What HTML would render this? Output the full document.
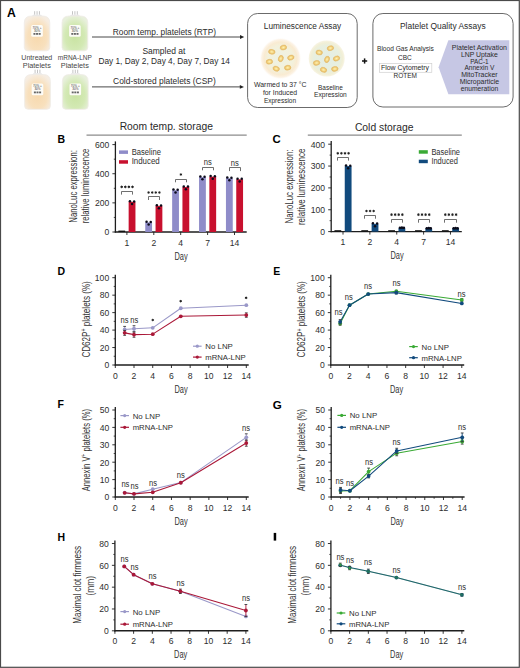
<!DOCTYPE html>
<html><head><meta charset="utf-8"><style>
html,body{margin:0;padding:0;background:#fff;overflow:hidden;width:520px;height:668px;}
svg{display:block;}
text{font-family:"Liberation Sans", sans-serif;}
</style></head><body>
<svg width="520" height="668" viewBox="0 0 520 668" font-family='"Liberation Sans", sans-serif' fill="#2b2b2b">
<defs>
<radialGradient id="gPeach" cx="50%" cy="60%" r="62%">
<stop offset="0" stop-color="#f7d9ae"/><stop offset="0.6" stop-color="#f8e0bd"/><stop offset="1" stop-color="#f6ede2"/></radialGradient>
<radialGradient id="gGreen" cx="50%" cy="60%" r="62%">
<stop offset="0" stop-color="#c9e3a2"/><stop offset="0.6" stop-color="#d3e9b4"/><stop offset="1" stop-color="#e8f0dc"/></radialGradient>
<radialGradient id="gGlow" cx="50%" cy="50%" r="50%">
<stop offset="0" stop-color="#eef2e4"/><stop offset="0.6" stop-color="#f3f1dc"/><stop offset="0.78" stop-color="#f9ebd2"/><stop offset="0.9" stop-color="#fcf3e6"/><stop offset="1" stop-color="#ffffff" stop-opacity="0"/></radialGradient>
<radialGradient id="gBase" cx="50%" cy="50%" r="50%">
<stop offset="0" stop-color="#e4eee6"/><stop offset="0.72" stop-color="#e8efdf"/><stop offset="0.88" stop-color="#f1efd6"/><stop offset="1" stop-color="#f8f4e4"/></radialGradient>
<radialGradient id="gPlt" cx="50%" cy="50%" r="50%">
<stop offset="0" stop-color="#fcefb8"/><stop offset="0.45" stop-color="#f7dc8a"/><stop offset="1" stop-color="#e2b35c"/></radialGradient>
</defs>
<rect x="0" y="0" width="520" height="668" fill="#fff"/>
<text x="7.00" y="17.00" font-size="12.2" font-weight="bold" fill="#000" >A</text>
<line x1="34.65" y1="11.20" x2="34.65" y2="14.80" stroke="#bdbdbd" stroke-width="0.9"/>
<line x1="37.05" y1="11.20" x2="37.05" y2="14.80" stroke="#bdbdbd" stroke-width="0.9"/>
<line x1="39.45" y1="11.20" x2="39.45" y2="14.80" stroke="#bdbdbd" stroke-width="0.9"/>
<path d="M33.05 14.80 h8 l1.5 2 h-11 z" fill="#e6e6e6"/>
<path d="M24.30 23.00 Q24.30 16.00 31.30 16.00 L42.80 16.00 Q49.80 16.00 49.80 23.00 L49.80 47.30 Q49.80 50.80 46.30 50.80 L27.80 50.80 Q24.30 50.80 24.30 47.30 Z" fill="url(#gPeach)" stroke="#efebe6" stroke-width="0.8"/>
<rect x="31.25" y="25.00" width="11.6" height="11.8" rx="1.5" fill="#fdfcf7"/>
<text x="37.05" y="28.70" font-size="3.1" text-anchor="middle" fill="#333" >70% +</text>
<text x="37.05" y="31.80" font-size="3.1" text-anchor="middle" fill="#333" >30%</text>
<rect x="33.45" y="33.00" width="2.00" height="1.80" fill="#666" />
<rect x="36.05" y="33.00" width="2.00" height="1.80" fill="#666" />
<rect x="38.65" y="33.00" width="2.00" height="1.80" fill="#666" />
<line x1="72.50" y1="11.20" x2="72.50" y2="14.80" stroke="#bdbdbd" stroke-width="0.9"/>
<line x1="74.90" y1="11.20" x2="74.90" y2="14.80" stroke="#bdbdbd" stroke-width="0.9"/>
<line x1="77.30" y1="11.20" x2="77.30" y2="14.80" stroke="#bdbdbd" stroke-width="0.9"/>
<path d="M70.90 14.80 h8 l1.5 2 h-11 z" fill="#e6e6e6"/>
<path d="M62.00 23.00 Q62.00 16.00 69.00 16.00 L80.80 16.00 Q87.80 16.00 87.80 23.00 L87.80 47.30 Q87.80 50.80 84.30 50.80 L65.50 50.80 Q62.00 50.80 62.00 47.30 Z" fill="url(#gGreen)" stroke="#efebe6" stroke-width="0.8"/>
<rect x="69.10" y="25.00" width="11.6" height="11.8" rx="1.5" fill="#fdfcf7"/>
<text x="74.90" y="28.70" font-size="3.1" text-anchor="middle" fill="#333" >70% +</text>
<text x="74.90" y="31.80" font-size="3.1" text-anchor="middle" fill="#333" >30%</text>
<rect x="71.30" y="33.00" width="2.00" height="1.80" fill="#666" />
<rect x="73.90" y="33.00" width="2.00" height="1.80" fill="#666" />
<rect x="76.50" y="33.00" width="2.00" height="1.80" fill="#666" />
<line x1="35.10" y1="69.70" x2="35.10" y2="73.30" stroke="#bdbdbd" stroke-width="0.9"/>
<line x1="37.50" y1="69.70" x2="37.50" y2="73.30" stroke="#bdbdbd" stroke-width="0.9"/>
<line x1="39.90" y1="69.70" x2="39.90" y2="73.30" stroke="#bdbdbd" stroke-width="0.9"/>
<path d="M33.50 73.30 h8 l1.5 2 h-11 z" fill="#e6e6e6"/>
<path d="M24.60 81.50 Q24.60 74.50 31.60 74.50 L43.40 74.50 Q50.40 74.50 50.40 81.50 L50.40 105.80 Q50.40 109.30 46.90 109.30 L28.10 109.30 Q24.60 109.30 24.60 105.80 Z" fill="url(#gPeach)" stroke="#efebe6" stroke-width="0.8"/>
<rect x="31.70" y="83.50" width="11.6" height="11.8" rx="1.5" fill="#fdfcf7"/>
<text x="37.50" y="87.20" font-size="3.1" text-anchor="middle" fill="#333" >70% +</text>
<text x="37.50" y="90.30" font-size="3.1" text-anchor="middle" fill="#333" >30%</text>
<rect x="33.90" y="91.50" width="2.00" height="1.80" fill="#666" />
<rect x="36.50" y="91.50" width="2.00" height="1.80" fill="#666" />
<rect x="39.10" y="91.50" width="2.00" height="1.80" fill="#666" />
<line x1="72.90" y1="69.70" x2="72.90" y2="73.30" stroke="#bdbdbd" stroke-width="0.9"/>
<line x1="75.30" y1="69.70" x2="75.30" y2="73.30" stroke="#bdbdbd" stroke-width="0.9"/>
<line x1="77.70" y1="69.70" x2="77.70" y2="73.30" stroke="#bdbdbd" stroke-width="0.9"/>
<path d="M71.30 73.30 h8 l1.5 2 h-11 z" fill="#e6e6e6"/>
<path d="M62.40 81.50 Q62.40 74.50 69.40 74.50 L81.20 74.50 Q88.20 74.50 88.20 81.50 L88.20 105.80 Q88.20 109.30 84.70 109.30 L65.90 109.30 Q62.40 109.30 62.40 105.80 Z" fill="url(#gGreen)" stroke="#efebe6" stroke-width="0.8"/>
<rect x="69.50" y="83.50" width="11.6" height="11.8" rx="1.5" fill="#fdfcf7"/>
<text x="75.30" y="87.20" font-size="3.1" text-anchor="middle" fill="#333" >70% +</text>
<text x="75.30" y="90.30" font-size="3.1" text-anchor="middle" fill="#333" >30%</text>
<rect x="71.70" y="91.50" width="2.00" height="1.80" fill="#666" />
<rect x="74.30" y="91.50" width="2.00" height="1.80" fill="#666" />
<rect x="76.90" y="91.50" width="2.00" height="1.80" fill="#666" />
<text x="36.80" y="59.60" font-size="7.3" text-anchor="middle" fill="#464646" textLength="31.00" lengthAdjust="spacingAndGlyphs" >Untreated</text>
<text x="36.80" y="67.70" font-size="7.3" text-anchor="middle" fill="#464646" textLength="28.00" lengthAdjust="spacingAndGlyphs" >Platelets</text>
<text x="74.80" y="59.60" font-size="7.3" text-anchor="middle" fill="#464646" textLength="34.00" lengthAdjust="spacingAndGlyphs" >mRNA-LNP</text>
<text x="74.80" y="67.70" font-size="7.3" text-anchor="middle" fill="#464646" textLength="28.00" lengthAdjust="spacingAndGlyphs" >Platelets</text>
<line x1="92.00" y1="37.00" x2="241.20" y2="37.00" stroke="#333" stroke-width="0.9"/>
<path d="M244.20 37.00 L240.00 35.10 L240.00 38.90 Z" fill="#222"/>
<line x1="92.00" y1="86.90" x2="241.00" y2="86.90" stroke="#333" stroke-width="0.9"/>
<path d="M244.00 86.90 L239.80 85.00 L239.80 88.80 Z" fill="#222"/>
<text x="164.40" y="35.00" font-size="8.3" text-anchor="middle" textLength="103.20" lengthAdjust="spacingAndGlyphs" >Room temp. platelets (RTP)</text>
<text x="163.90" y="54.00" font-size="8.3" text-anchor="middle" textLength="43.00" lengthAdjust="spacingAndGlyphs" >Sampled at</text>
<text x="164.20" y="63.50" font-size="8.3" text-anchor="middle" textLength="131.50" lengthAdjust="spacingAndGlyphs" >Day 1, Day 2, Day 4, Day 7, Day 14</text>
<text x="164.40" y="84.30" font-size="8.3" text-anchor="middle" textLength="102.70" lengthAdjust="spacingAndGlyphs" >Cold-stored platelets (CSP)</text>
<rect x="247.6" y="13.5" width="109.6" height="94" rx="10" fill="none" stroke="#5a5a5a" stroke-width="0.9"/>
<text x="302.50" y="28.90" font-size="8.3" text-anchor="middle" textLength="77.40" lengthAdjust="spacingAndGlyphs" >Luminescence Assay</text>
<circle cx="280.50" cy="58.50" r="21.00" fill="url(#gGlow)" />
<circle cx="326.70" cy="58.50" r="18.00" fill="url(#gBase)" />
<ellipse cx="271.80" cy="51.80" rx="3.3" ry="2.4" fill="url(#gPlt)" stroke="#e6bd6e" stroke-width="0.6" transform="rotate(10 271.80 51.80)"/>
<ellipse cx="283.40" cy="47.50" rx="3.3" ry="2.4" fill="url(#gPlt)" stroke="#e6bd6e" stroke-width="0.6" transform="rotate(-15 283.40 47.50)"/>
<ellipse cx="280.80" cy="58.60" rx="3.3" ry="2.4" fill="url(#gPlt)" stroke="#e6bd6e" stroke-width="0.6" transform="rotate(-70 280.80 58.60)"/>
<ellipse cx="290.80" cy="57.60" rx="3.3" ry="2.4" fill="url(#gPlt)" stroke="#e6bd6e" stroke-width="0.6" transform="rotate(-20 290.80 57.60)"/>
<ellipse cx="269.40" cy="61.70" rx="3.3" ry="2.4" fill="url(#gPlt)" stroke="#e6bd6e" stroke-width="0.6" transform="rotate(-10 269.40 61.70)"/>
<ellipse cx="276.20" cy="68.70" rx="3.3" ry="2.4" fill="url(#gPlt)" stroke="#e6bd6e" stroke-width="0.6" transform="rotate(20 276.20 68.70)"/>
<ellipse cx="287.70" cy="67.70" rx="3.3" ry="2.4" fill="url(#gPlt)" stroke="#e6bd6e" stroke-width="0.6" transform="rotate(-10 287.70 67.70)"/>
<ellipse cx="319.20" cy="52.50" rx="3.3" ry="2.4" fill="url(#gPlt)" stroke="#e6bd6e" stroke-width="0.6" transform="rotate(10 319.20 52.50)"/>
<ellipse cx="330.40" cy="48.20" rx="3.3" ry="2.4" fill="url(#gPlt)" stroke="#e6bd6e" stroke-width="0.6" transform="rotate(-15 330.40 48.20)"/>
<ellipse cx="327.00" cy="59.40" rx="3.3" ry="2.4" fill="url(#gPlt)" stroke="#e6bd6e" stroke-width="0.6" transform="rotate(-70 327.00 59.40)"/>
<ellipse cx="336.50" cy="58.50" rx="3.3" ry="2.4" fill="url(#gPlt)" stroke="#e6bd6e" stroke-width="0.6" transform="rotate(-20 336.50 58.50)"/>
<ellipse cx="316.60" cy="62.90" rx="3.3" ry="2.4" fill="url(#gPlt)" stroke="#e6bd6e" stroke-width="0.6" transform="rotate(-10 316.60 62.90)"/>
<ellipse cx="323.50" cy="69.80" rx="3.3" ry="2.4" fill="url(#gPlt)" stroke="#e6bd6e" stroke-width="0.6" transform="rotate(20 323.50 69.80)"/>
<ellipse cx="334.80" cy="68.90" rx="3.3" ry="2.4" fill="url(#gPlt)" stroke="#e6bd6e" stroke-width="0.6" transform="rotate(-10 334.80 68.90)"/>
<text x="280.30" y="87.00" font-size="7.0" text-anchor="middle" textLength="52.50" lengthAdjust="spacingAndGlyphs" >Warmed to 37 °C</text>
<text x="280.00" y="95.00" font-size="7.0" text-anchor="middle" textLength="34.20" lengthAdjust="spacingAndGlyphs" >for Induced</text>
<text x="280.00" y="103.00" font-size="7.0" text-anchor="middle" textLength="32.20" lengthAdjust="spacingAndGlyphs" >Expression</text>
<text x="330.40" y="89.50" font-size="7.0" text-anchor="middle" textLength="24.80" lengthAdjust="spacingAndGlyphs" >Baseline</text>
<text x="330.40" y="97.30" font-size="7.0" text-anchor="middle" textLength="32.80" lengthAdjust="spacingAndGlyphs" >Expression</text>
<line x1="362.00" y1="61.00" x2="367.20" y2="61.00" stroke="#111" stroke-width="1.5"/>
<line x1="364.60" y1="58.40" x2="364.60" y2="63.60" stroke="#111" stroke-width="1.5"/>
<rect x="372.9" y="13.5" width="140.2" height="93.5" rx="10" fill="none" stroke="#5a5a5a" stroke-width="0.9"/>
<text x="442.80" y="28.80" font-size="8.3" text-anchor="middle" textLength="85.60" lengthAdjust="spacingAndGlyphs" >Platelet Quality Assays</text>
<text x="405.40" y="51.20" font-size="7.5" text-anchor="middle" textLength="56.80" lengthAdjust="spacingAndGlyphs" >Blood Gas Analysis</text>
<text x="404.90" y="60.30" font-size="7.5" text-anchor="middle" textLength="13.80" lengthAdjust="spacingAndGlyphs" >CBC</text>
<rect x="379.6" y="63.4" width="52.2" height="8.9" fill="none" stroke="#cfcfcf" stroke-width="0.7"/>
<text x="405.00" y="69.50" font-size="7.5" text-anchor="middle" textLength="48.00" lengthAdjust="spacingAndGlyphs" >Flow Cytometry</text>
<text x="405.20" y="78.20" font-size="7.5" text-anchor="middle" textLength="23.50" lengthAdjust="spacingAndGlyphs" >ROTEM</text>
<path d="M448.4 40.2 L509.3 40.2 L509.3 94.2 L448.4 94.2 L438.6 67.2 Z" fill="#c6c7e4"/>
<text x="479.40" y="50.20" font-size="7.1" text-anchor="middle" textLength="55.10" lengthAdjust="spacingAndGlyphs" >Platelet Activation</text>
<text x="479.40" y="56.95" font-size="7.1" text-anchor="middle" textLength="37.00" lengthAdjust="spacingAndGlyphs" >LNP Uptake</text>
<text x="479.40" y="63.70" font-size="7.1" text-anchor="middle" textLength="18.50" lengthAdjust="spacingAndGlyphs" >PAC-1</text>
<text x="479.40" y="70.45" font-size="7.1" text-anchor="middle" textLength="30.00" lengthAdjust="spacingAndGlyphs" >Annexin V</text>
<text x="479.40" y="77.20" font-size="7.1" text-anchor="middle" textLength="36.50" lengthAdjust="spacingAndGlyphs" >MitoTracker</text>
<text x="479.40" y="83.95" font-size="7.1" text-anchor="middle" textLength="39.50" lengthAdjust="spacingAndGlyphs" >Microparticle</text>
<text x="479.40" y="90.70" font-size="7.1" text-anchor="middle" textLength="37.50" lengthAdjust="spacingAndGlyphs" >enumeration</text>
<text x="57.50" y="142.70" font-size="10.5" font-weight="bold" fill="#000" >B</text>
<text x="166.30" y="129.80" font-size="10.0" text-anchor="middle" fill="#2a2a2a" textLength="93.30" lengthAdjust="spacingAndGlyphs" >Room temp. storage</text>
<line x1="86.50" y1="135.10" x2="246.70" y2="135.10" stroke="#8c8c8c" stroke-width="1.4"/>
<line x1="115.40" y1="141.40" x2="115.40" y2="232.60" stroke="#1e1e1e" stroke-width="1.3"/>
<line x1="112.40" y1="232.00" x2="115.40" y2="232.00" stroke="#1e1e1e" stroke-width="0.9"/>
<text x="109.30" y="235.30" font-size="8.6" text-anchor="end" fill="#2e2e2e" >0</text>
<line x1="112.40" y1="202.87" x2="115.40" y2="202.87" stroke="#1e1e1e" stroke-width="0.9"/>
<text x="109.30" y="206.17" font-size="8.6" text-anchor="end" fill="#2e2e2e" >200</text>
<line x1="112.40" y1="173.73" x2="115.40" y2="173.73" stroke="#1e1e1e" stroke-width="0.9"/>
<text x="109.30" y="177.03" font-size="8.6" text-anchor="end" fill="#2e2e2e" >400</text>
<line x1="112.40" y1="144.60" x2="115.40" y2="144.60" stroke="#1e1e1e" stroke-width="0.9"/>
<text x="109.30" y="147.90" font-size="8.6" text-anchor="end" fill="#2e2e2e" >600</text>
<line x1="113.80" y1="217.43" x2="115.40" y2="217.43" stroke="#1e1e1e" stroke-width="0.8"/>
<line x1="113.80" y1="188.30" x2="115.40" y2="188.30" stroke="#1e1e1e" stroke-width="0.8"/>
<line x1="113.80" y1="159.17" x2="115.40" y2="159.17" stroke="#1e1e1e" stroke-width="0.8"/>
<line x1="114.80" y1="232.00" x2="246.70" y2="232.00" stroke="#1e1e1e" stroke-width="1.4"/>
<line x1="126.90" y1="232.00" x2="126.90" y2="235.00" stroke="#1e1e1e" stroke-width="0.9"/>
<text x="126.90" y="245.50" font-size="8.6" text-anchor="middle" fill="#2e2e2e" >1</text>
<line x1="153.80" y1="232.00" x2="153.80" y2="235.00" stroke="#1e1e1e" stroke-width="0.9"/>
<text x="153.80" y="245.50" font-size="8.6" text-anchor="middle" fill="#2e2e2e" >2</text>
<line x1="180.70" y1="232.00" x2="180.70" y2="235.00" stroke="#1e1e1e" stroke-width="0.9"/>
<text x="180.70" y="245.50" font-size="8.6" text-anchor="middle" fill="#2e2e2e" >4</text>
<line x1="207.60" y1="232.00" x2="207.60" y2="235.00" stroke="#1e1e1e" stroke-width="0.9"/>
<text x="207.60" y="245.50" font-size="8.6" text-anchor="middle" fill="#2e2e2e" >7</text>
<line x1="234.50" y1="232.00" x2="234.50" y2="235.00" stroke="#1e1e1e" stroke-width="0.9"/>
<text x="234.50" y="245.50" font-size="8.6" text-anchor="middle" fill="#2e2e2e" >14</text>
<text x="181.00" y="259.50" font-size="10.3" text-anchor="middle" fill="#333" textLength="13.20" lengthAdjust="spacingAndGlyphs" >Day</text>
<text x="77.30" y="186.40" font-size="10.2" text-anchor="middle" fill="#333" textLength="72.50" lengthAdjust="spacingAndGlyphs" transform="rotate(-90 77.30 186.40)" >NanoLuc expression:</text>
<text x="89.30" y="186.00" font-size="10.2" text-anchor="middle" fill="#333" textLength="74.70" lengthAdjust="spacingAndGlyphs" transform="rotate(-90 89.30 186.00)" >relative luminescence</text>
<rect x="119.00" y="150.40" width="9.00" height="3.50" fill="#8f8cc9" />
<text x="131.70" y="154.60" font-size="8.3" fill="#2e2e2e" textLength="29.20" lengthAdjust="spacingAndGlyphs" >Baseline</text>
<rect x="119.00" y="160.20" width="9.00" height="3.50" fill="#c8102e" />
<text x="131.70" y="164.30" font-size="8.3" fill="#2e2e2e" textLength="28.00" lengthAdjust="spacingAndGlyphs" >Induced</text>
<rect x="118.35" y="230.60" width="6.80" height="1.40" fill="#111" />
<rect x="128.65" y="201.85" width="6.80" height="30.15" fill="#c8102e" />
<circle cx="129.95" cy="201.25" r="1.25" fill="#0b0b1a" />
<circle cx="134.15" cy="201.45" r="1.25" fill="#0b0b1a" />
<circle cx="132.05" cy="204.05" r="1.25" fill="#0b0b1a" />
<rect x="145.25" y="222.39" width="6.80" height="9.61" fill="#8f8cc9" />
<circle cx="146.55" cy="221.79" r="1.25" fill="#0b0b1a" />
<circle cx="150.75" cy="221.99" r="1.25" fill="#0b0b1a" />
<circle cx="148.65" cy="224.59" r="1.25" fill="#0b0b1a" />
<rect x="155.55" y="205.93" width="6.80" height="26.07" fill="#c8102e" />
<circle cx="156.85" cy="205.33" r="1.25" fill="#0b0b1a" />
<circle cx="161.05" cy="205.53" r="1.25" fill="#0b0b1a" />
<circle cx="158.95" cy="208.13" r="1.25" fill="#0b0b1a" />
<rect x="172.15" y="190.19" width="6.80" height="41.81" fill="#8f8cc9" />
<circle cx="173.45" cy="189.59" r="1.25" fill="#0b0b1a" />
<circle cx="177.65" cy="189.79" r="1.25" fill="#0b0b1a" />
<circle cx="175.55" cy="192.39" r="1.25" fill="#0b0b1a" />
<rect x="182.45" y="186.99" width="6.80" height="45.01" fill="#c8102e" />
<circle cx="183.75" cy="186.39" r="1.25" fill="#0b0b1a" />
<circle cx="187.95" cy="186.59" r="1.25" fill="#0b0b1a" />
<circle cx="185.85" cy="189.19" r="1.25" fill="#0b0b1a" />
<rect x="199.05" y="177.08" width="6.80" height="54.92" fill="#8f8cc9" />
<circle cx="200.35" cy="176.48" r="1.25" fill="#0b0b1a" />
<circle cx="204.55" cy="176.68" r="1.25" fill="#0b0b1a" />
<circle cx="202.45" cy="179.28" r="1.25" fill="#0b0b1a" />
<rect x="209.35" y="176.65" width="6.80" height="55.35" fill="#c8102e" />
<circle cx="210.65" cy="176.05" r="1.25" fill="#0b0b1a" />
<circle cx="214.85" cy="176.25" r="1.25" fill="#0b0b1a" />
<circle cx="212.75" cy="178.85" r="1.25" fill="#0b0b1a" />
<rect x="225.95" y="178.10" width="6.80" height="53.90" fill="#8f8cc9" />
<circle cx="227.25" cy="177.50" r="1.25" fill="#0b0b1a" />
<circle cx="231.45" cy="177.70" r="1.25" fill="#0b0b1a" />
<circle cx="229.35" cy="180.30" r="1.25" fill="#0b0b1a" />
<rect x="236.25" y="179.27" width="6.80" height="52.73" fill="#c8102e" />
<circle cx="237.55" cy="178.67" r="1.25" fill="#0b0b1a" />
<circle cx="241.75" cy="178.87" r="1.25" fill="#0b0b1a" />
<circle cx="239.65" cy="181.47" r="1.25" fill="#0b0b1a" />
<polygon points="121.70,185.35 122.20,186.03 123.04,186.12 122.70,186.90 123.04,187.68 122.20,187.77 121.70,188.45 121.20,187.77 120.36,187.68 120.70,186.90 120.36,186.12 121.20,186.03" fill="#222"/>
<polygon points="125.30,185.35 125.80,186.03 126.64,186.12 126.30,186.90 126.64,187.68 125.80,187.77 125.30,188.45 124.80,187.77 123.96,187.68 124.30,186.90 123.96,186.12 124.80,186.03" fill="#222"/>
<polygon points="128.90,185.35 129.40,186.03 130.24,186.12 129.90,186.90 130.24,187.68 129.40,187.77 128.90,188.45 128.40,187.77 127.56,187.68 127.90,186.90 127.56,186.12 128.40,186.03" fill="#222"/>
<polygon points="132.50,185.35 133.00,186.03 133.84,186.12 133.50,186.90 133.84,187.68 133.00,187.77 132.50,188.45 132.00,187.77 131.16,187.68 131.50,186.90 131.16,186.12 132.00,186.03" fill="#222"/>
<path d="M121.50 194.60 V191.50 H132.50 V194.60" fill="none" stroke="#555" stroke-width="0.85"/>
<polygon points="148.60,190.95 149.10,191.63 149.94,191.72 149.60,192.50 149.94,193.28 149.10,193.37 148.60,194.05 148.10,193.37 147.26,193.28 147.60,192.50 147.26,191.72 148.10,191.63" fill="#222"/>
<polygon points="152.20,190.95 152.70,191.63 153.54,191.72 153.20,192.50 153.54,193.28 152.70,193.37 152.20,194.05 151.70,193.37 150.86,193.28 151.20,192.50 150.86,191.72 151.70,191.63" fill="#222"/>
<polygon points="155.80,190.95 156.30,191.63 157.14,191.72 156.80,192.50 157.14,193.28 156.30,193.37 155.80,194.05 155.30,193.37 154.46,193.28 154.80,192.50 154.46,191.72 155.30,191.63" fill="#222"/>
<polygon points="159.40,190.95 159.90,191.63 160.74,191.72 160.40,192.50 160.74,193.28 159.90,193.37 159.40,194.05 158.90,193.37 158.06,193.28 158.40,192.50 158.06,191.72 158.90,191.63" fill="#222"/>
<path d="M148.50 200.00 V196.50 H159.50 V200.00" fill="none" stroke="#555" stroke-width="0.85"/>
<polygon points="180.90,172.95 181.40,173.63 182.24,173.72 181.90,174.50 182.24,175.28 181.40,175.37 180.90,176.05 180.40,175.37 179.56,175.28 179.90,174.50 179.56,173.72 180.40,173.63" fill="#222"/>
<path d="M175.50 182.30 V179.50 H186.50 V182.30" fill="none" stroke="#555" stroke-width="0.85"/>
<text x="207.80" y="165.30" font-size="8.7" text-anchor="middle" fill="#2a2a2a" textLength="8.00" lengthAdjust="spacingAndGlyphs" >ns</text>
<path d="M202.50 170.30 V167.50 H213.50 V170.30" fill="none" stroke="#555" stroke-width="0.85"/>
<text x="234.70" y="166.10" font-size="8.7" text-anchor="middle" fill="#2a2a2a" textLength="8.00" lengthAdjust="spacingAndGlyphs" >ns</text>
<path d="M229.50 171.10 V167.50 H240.50 V171.10" fill="none" stroke="#555" stroke-width="0.85"/>
<text x="272.60" y="143.20" font-size="10.8" font-weight="bold" fill="#000" textLength="8.20" lengthAdjust="spacingAndGlyphs" >C</text>
<text x="384.20" y="130.60" font-size="10.0" text-anchor="middle" fill="#2a2a2a" textLength="58.60" lengthAdjust="spacingAndGlyphs" >Cold storage</text>
<line x1="307.80" y1="135.10" x2="461.80" y2="135.10" stroke="#8c8c8c" stroke-width="1.4"/>
<line x1="331.20" y1="141.00" x2="331.20" y2="232.20" stroke="#1e1e1e" stroke-width="1.3"/>
<line x1="328.20" y1="231.60" x2="331.20" y2="231.60" stroke="#1e1e1e" stroke-width="0.9"/>
<text x="325.10" y="234.90" font-size="8.6" text-anchor="end" fill="#2e2e2e" >0</text>
<line x1="328.20" y1="209.75" x2="331.20" y2="209.75" stroke="#1e1e1e" stroke-width="0.9"/>
<text x="325.10" y="213.05" font-size="8.6" text-anchor="end" fill="#2e2e2e" >100</text>
<line x1="328.20" y1="187.90" x2="331.20" y2="187.90" stroke="#1e1e1e" stroke-width="0.9"/>
<text x="325.10" y="191.20" font-size="8.6" text-anchor="end" fill="#2e2e2e" >200</text>
<line x1="328.20" y1="166.05" x2="331.20" y2="166.05" stroke="#1e1e1e" stroke-width="0.9"/>
<text x="325.10" y="169.35" font-size="8.6" text-anchor="end" fill="#2e2e2e" >300</text>
<line x1="328.20" y1="144.20" x2="331.20" y2="144.20" stroke="#1e1e1e" stroke-width="0.9"/>
<text x="325.10" y="147.50" font-size="8.6" text-anchor="end" fill="#2e2e2e" >400</text>
<line x1="329.60" y1="220.67" x2="331.20" y2="220.67" stroke="#1e1e1e" stroke-width="0.8"/>
<line x1="329.60" y1="198.82" x2="331.20" y2="198.82" stroke="#1e1e1e" stroke-width="0.8"/>
<line x1="329.60" y1="176.97" x2="331.20" y2="176.97" stroke="#1e1e1e" stroke-width="0.8"/>
<line x1="329.60" y1="155.12" x2="331.20" y2="155.12" stroke="#1e1e1e" stroke-width="0.8"/>
<line x1="330.60" y1="231.60" x2="461.80" y2="231.60" stroke="#1e1e1e" stroke-width="1.4"/>
<line x1="343.00" y1="231.60" x2="343.00" y2="234.60" stroke="#1e1e1e" stroke-width="0.9"/>
<text x="343.00" y="245.10" font-size="8.6" text-anchor="middle" fill="#2e2e2e" >1</text>
<line x1="369.87" y1="231.60" x2="369.87" y2="234.60" stroke="#1e1e1e" stroke-width="0.9"/>
<text x="369.87" y="245.10" font-size="8.6" text-anchor="middle" fill="#2e2e2e" >2</text>
<line x1="396.74" y1="231.60" x2="396.74" y2="234.60" stroke="#1e1e1e" stroke-width="0.9"/>
<text x="396.74" y="245.10" font-size="8.6" text-anchor="middle" fill="#2e2e2e" >4</text>
<line x1="423.61" y1="231.60" x2="423.61" y2="234.60" stroke="#1e1e1e" stroke-width="0.9"/>
<text x="423.61" y="245.10" font-size="8.6" text-anchor="middle" fill="#2e2e2e" >7</text>
<line x1="450.48" y1="231.60" x2="450.48" y2="234.60" stroke="#1e1e1e" stroke-width="0.9"/>
<text x="450.48" y="245.10" font-size="8.6" text-anchor="middle" fill="#2e2e2e" >14</text>
<text x="397.00" y="259.10" font-size="10.3" text-anchor="middle" fill="#333" textLength="13.20" lengthAdjust="spacingAndGlyphs" >Day</text>
<text x="292.60" y="186.50" font-size="10.2" text-anchor="middle" fill="#333" textLength="74.00" lengthAdjust="spacingAndGlyphs" transform="rotate(-90 292.60 186.50)" >NanoLuc expression:</text>
<text x="304.70" y="186.80" font-size="10.2" text-anchor="middle" fill="#333" textLength="76.50" lengthAdjust="spacingAndGlyphs" transform="rotate(-90 304.70 186.80)" >relative luminescence</text>
<rect x="418.80" y="150.20" width="9.00" height="3.50" fill="#3aaa35" />
<text x="431.40" y="154.80" font-size="8.3" fill="#2e2e2e" textLength="28.60" lengthAdjust="spacingAndGlyphs" >Baseline</text>
<rect x="418.80" y="159.70" width="9.00" height="3.50" fill="#114a7d" />
<text x="431.40" y="164.30" font-size="8.3" fill="#2e2e2e" textLength="26.50" lengthAdjust="spacingAndGlyphs" >Induced</text>
<rect x="334.45" y="230.20" width="6.80" height="1.40" fill="#111" />
<rect x="344.75" y="166.05" width="6.80" height="65.55" fill="#114a7d" />
<circle cx="346.05" cy="165.45" r="1.25" fill="#0b0b1a" />
<circle cx="350.25" cy="165.65" r="1.25" fill="#0b0b1a" />
<circle cx="348.15" cy="168.25" r="1.25" fill="#0b0b1a" />
<rect x="361.32" y="230.20" width="6.80" height="1.40" fill="#111" />
<rect x="371.62" y="223.95" width="6.80" height="7.65" fill="#114a7d" />
<circle cx="372.92" cy="223.35" r="1.25" fill="#0b0b1a" />
<circle cx="377.12" cy="223.55" r="1.25" fill="#0b0b1a" />
<circle cx="375.02" cy="226.15" r="1.25" fill="#0b0b1a" />
<rect x="388.19" y="230.20" width="6.80" height="1.40" fill="#111" />
<rect x="398.49" y="228.10" width="6.80" height="3.50" fill="#114a7d" />
<rect x="398.79" y="227.10" width="6.20" height="2.00" fill="#0d1b2e" rx="1"/>
<circle cx="399.89" cy="227.80" r="1.20" fill="#0b0b1a" />
<circle cx="403.89" cy="227.80" r="1.20" fill="#0b0b1a" />
<circle cx="401.89" cy="227.50" r="1.20" fill="#0b0b1a" />
<rect x="415.06" y="230.20" width="6.80" height="1.40" fill="#111" />
<rect x="425.36" y="228.54" width="6.80" height="3.06" fill="#114a7d" />
<rect x="425.66" y="227.54" width="6.20" height="2.00" fill="#0d1b2e" rx="1"/>
<circle cx="426.76" cy="228.24" r="1.20" fill="#0b0b1a" />
<circle cx="430.76" cy="228.24" r="1.20" fill="#0b0b1a" />
<circle cx="428.76" cy="227.94" r="1.20" fill="#0b0b1a" />
<rect x="441.93" y="230.20" width="6.80" height="1.40" fill="#111" />
<rect x="452.23" y="228.54" width="6.80" height="3.06" fill="#114a7d" />
<rect x="452.53" y="227.54" width="6.20" height="2.00" fill="#0d1b2e" rx="1"/>
<circle cx="453.63" cy="228.24" r="1.20" fill="#0b0b1a" />
<circle cx="457.63" cy="228.24" r="1.20" fill="#0b0b1a" />
<circle cx="455.63" cy="227.94" r="1.20" fill="#0b0b1a" />
<polygon points="337.80,151.75 338.30,152.43 339.14,152.53 338.80,153.30 339.14,154.08 338.30,154.17 337.80,154.85 337.30,154.17 336.46,154.08 336.80,153.30 336.46,152.53 337.30,152.43" fill="#222"/>
<polygon points="341.40,151.75 341.90,152.43 342.74,152.53 342.40,153.30 342.74,154.08 341.90,154.17 341.40,154.85 340.90,154.17 340.06,154.08 340.40,153.30 340.06,152.53 340.90,152.43" fill="#222"/>
<polygon points="345.00,151.75 345.50,152.43 346.34,152.53 346.00,153.30 346.34,154.08 345.50,154.17 345.00,154.85 344.50,154.17 343.66,154.08 344.00,153.30 343.66,152.53 344.50,152.43" fill="#222"/>
<polygon points="348.60,151.75 349.10,152.43 349.94,152.53 349.60,153.30 349.94,154.08 349.10,154.17 348.60,154.85 348.10,154.17 347.26,154.08 347.60,153.30 347.26,152.53 348.10,152.43" fill="#222"/>
<path d="M337.50 160.60 V157.50 H348.50 V160.60" fill="none" stroke="#555" stroke-width="0.85"/>
<polygon points="366.47,209.45 366.97,210.13 367.81,210.22 367.47,211.00 367.81,211.78 366.97,211.87 366.47,212.55 365.97,211.87 365.13,211.78 365.47,211.00 365.13,210.22 365.97,210.13" fill="#222"/>
<polygon points="370.07,209.45 370.57,210.13 371.41,210.22 371.07,211.00 371.41,211.78 370.57,211.87 370.07,212.55 369.57,211.87 368.73,211.78 369.07,211.00 368.73,210.22 369.57,210.13" fill="#222"/>
<polygon points="373.67,209.45 374.17,210.13 375.01,210.22 374.67,211.00 375.01,211.78 374.17,211.87 373.67,212.55 373.17,211.87 372.33,211.78 372.67,211.00 372.33,210.22 373.17,210.13" fill="#222"/>
<path d="M364.50 218.70 V215.50 H375.50 V218.70" fill="none" stroke="#555" stroke-width="0.85"/>
<polygon points="391.54,213.05 392.04,213.73 392.88,213.82 392.54,214.60 392.88,215.38 392.04,215.47 391.54,216.15 391.04,215.47 390.20,215.38 390.54,214.60 390.20,213.82 391.04,213.73" fill="#222"/>
<polygon points="395.14,213.05 395.64,213.73 396.48,213.82 396.14,214.60 396.48,215.38 395.64,215.47 395.14,216.15 394.64,215.47 393.80,215.38 394.14,214.60 393.80,213.82 394.64,213.73" fill="#222"/>
<polygon points="398.74,213.05 399.24,213.73 400.08,213.82 399.74,214.60 400.08,215.38 399.24,215.47 398.74,216.15 398.24,215.47 397.40,215.38 397.74,214.60 397.40,213.82 398.24,213.73" fill="#222"/>
<polygon points="402.34,213.05 402.84,213.73 403.68,213.82 403.34,214.60 403.68,215.38 402.84,215.47 402.34,216.15 401.84,215.47 401.00,215.38 401.34,214.60 401.00,213.82 401.84,213.73" fill="#222"/>
<path d="M391.50 222.70 V219.50 H402.50 V222.70" fill="none" stroke="#555" stroke-width="0.85"/>
<polygon points="418.41,213.05 418.91,213.73 419.75,213.82 419.41,214.60 419.75,215.38 418.91,215.47 418.41,216.15 417.91,215.47 417.07,215.38 417.41,214.60 417.07,213.82 417.91,213.73" fill="#222"/>
<polygon points="422.01,213.05 422.51,213.73 423.35,213.82 423.01,214.60 423.35,215.38 422.51,215.47 422.01,216.15 421.51,215.47 420.67,215.38 421.01,214.60 420.67,213.82 421.51,213.73" fill="#222"/>
<polygon points="425.61,213.05 426.11,213.73 426.95,213.82 426.61,214.60 426.95,215.38 426.11,215.47 425.61,216.15 425.11,215.47 424.27,215.38 424.61,214.60 424.27,213.82 425.11,213.73" fill="#222"/>
<polygon points="429.21,213.05 429.71,213.73 430.55,213.82 430.21,214.60 430.55,215.38 429.71,215.47 429.21,216.15 428.71,215.47 427.87,215.38 428.21,214.60 427.87,213.82 428.71,213.73" fill="#222"/>
<path d="M418.50 222.70 V219.50 H429.50 V222.70" fill="none" stroke="#555" stroke-width="0.85"/>
<polygon points="445.28,213.05 445.78,213.73 446.62,213.82 446.28,214.60 446.62,215.38 445.78,215.47 445.28,216.15 444.78,215.47 443.94,215.38 444.28,214.60 443.94,213.82 444.78,213.73" fill="#222"/>
<polygon points="448.88,213.05 449.38,213.73 450.22,213.82 449.88,214.60 450.22,215.38 449.38,215.47 448.88,216.15 448.38,215.47 447.54,215.38 447.88,214.60 447.54,213.82 448.38,213.73" fill="#222"/>
<polygon points="452.48,213.05 452.98,213.73 453.82,213.82 453.48,214.60 453.82,215.38 452.98,215.47 452.48,216.15 451.98,215.47 451.14,215.38 451.48,214.60 451.14,213.82 451.98,213.73" fill="#222"/>
<polygon points="456.08,213.05 456.58,213.73 457.42,213.82 457.08,214.60 457.42,215.38 456.58,215.47 456.08,216.15 455.58,215.47 454.74,215.38 455.08,214.60 454.74,213.82 455.58,213.73" fill="#222"/>
<path d="M444.50 222.70 V219.50 H456.50 V222.70" fill="none" stroke="#555" stroke-width="0.85"/>
<text x="57.50" y="275.20" font-size="10.5" font-weight="bold" fill="#000" >D</text>
<line x1="115.30" y1="274.70" x2="115.30" y2="365.60" stroke="#1e1e1e" stroke-width="1.3"/>
<line x1="112.30" y1="365.00" x2="115.30" y2="365.00" stroke="#1e1e1e" stroke-width="0.9"/>
<text x="109.20" y="368.30" font-size="8.6" text-anchor="end" fill="#2e2e2e" >0</text>
<line x1="112.30" y1="347.54" x2="115.30" y2="347.54" stroke="#1e1e1e" stroke-width="0.9"/>
<text x="109.20" y="350.84" font-size="8.6" text-anchor="end" fill="#2e2e2e" >20</text>
<line x1="112.30" y1="330.08" x2="115.30" y2="330.08" stroke="#1e1e1e" stroke-width="0.9"/>
<text x="109.20" y="333.38" font-size="8.6" text-anchor="end" fill="#2e2e2e" >40</text>
<line x1="112.30" y1="312.62" x2="115.30" y2="312.62" stroke="#1e1e1e" stroke-width="0.9"/>
<text x="109.20" y="315.92" font-size="8.6" text-anchor="end" fill="#2e2e2e" >60</text>
<line x1="112.30" y1="295.16" x2="115.30" y2="295.16" stroke="#1e1e1e" stroke-width="0.9"/>
<text x="109.20" y="298.46" font-size="8.6" text-anchor="end" fill="#2e2e2e" >80</text>
<line x1="112.30" y1="277.70" x2="115.30" y2="277.70" stroke="#1e1e1e" stroke-width="0.9"/>
<text x="109.20" y="281.00" font-size="8.6" text-anchor="end" fill="#2e2e2e" >100</text>
<line x1="113.70" y1="356.27" x2="115.30" y2="356.27" stroke="#1e1e1e" stroke-width="0.8"/>
<line x1="113.70" y1="338.81" x2="115.30" y2="338.81" stroke="#1e1e1e" stroke-width="0.8"/>
<line x1="113.70" y1="321.35" x2="115.30" y2="321.35" stroke="#1e1e1e" stroke-width="0.8"/>
<line x1="113.70" y1="303.89" x2="115.30" y2="303.89" stroke="#1e1e1e" stroke-width="0.8"/>
<line x1="113.70" y1="286.43" x2="115.30" y2="286.43" stroke="#1e1e1e" stroke-width="0.8"/>
<line x1="114.70" y1="365.00" x2="248.70" y2="365.00" stroke="#1e1e1e" stroke-width="1.4"/>
<line x1="115.30" y1="365.00" x2="115.30" y2="368.00" stroke="#1e1e1e" stroke-width="0.9"/>
<text x="115.30" y="378.50" font-size="8.6" text-anchor="middle" fill="#2e2e2e" >0</text>
<line x1="134.01" y1="365.00" x2="134.01" y2="368.00" stroke="#1e1e1e" stroke-width="0.9"/>
<text x="134.01" y="378.50" font-size="8.6" text-anchor="middle" fill="#2e2e2e" >2</text>
<line x1="152.73" y1="365.00" x2="152.73" y2="368.00" stroke="#1e1e1e" stroke-width="0.9"/>
<text x="152.73" y="378.50" font-size="8.6" text-anchor="middle" fill="#2e2e2e" >4</text>
<line x1="171.44" y1="365.00" x2="171.44" y2="368.00" stroke="#1e1e1e" stroke-width="0.9"/>
<text x="171.44" y="378.50" font-size="8.6" text-anchor="middle" fill="#2e2e2e" >6</text>
<line x1="190.16" y1="365.00" x2="190.16" y2="368.00" stroke="#1e1e1e" stroke-width="0.9"/>
<text x="190.16" y="378.50" font-size="8.6" text-anchor="middle" fill="#2e2e2e" >8</text>
<line x1="208.87" y1="365.00" x2="208.87" y2="368.00" stroke="#1e1e1e" stroke-width="0.9"/>
<text x="208.87" y="378.50" font-size="8.6" text-anchor="middle" fill="#2e2e2e" >10</text>
<line x1="227.58" y1="365.00" x2="227.58" y2="368.00" stroke="#1e1e1e" stroke-width="0.9"/>
<text x="227.58" y="378.50" font-size="8.6" text-anchor="middle" fill="#2e2e2e" >12</text>
<line x1="246.30" y1="365.00" x2="246.30" y2="368.00" stroke="#1e1e1e" stroke-width="0.9"/>
<text x="246.30" y="378.50" font-size="8.6" text-anchor="middle" fill="#2e2e2e" >14</text>
<text x="181.10" y="392.50" font-size="10.3" text-anchor="middle" fill="#333" textLength="13.20" lengthAdjust="spacingAndGlyphs" >Day</text>
<text x="90.00" y="319.40" font-size="10.2" text-anchor="middle" fill="#333" textLength="76.40" lengthAdjust="spacingAndGlyphs" transform="rotate(-90 90.00 319.40)">CD62P<tspan font-size="6.5" dy="-3.6">+</tspan><tspan dy="3.6"> platelets (%)</tspan></text>
<polyline points="124.66,329.47 134.01,328.77 152.73,327.81 180.80,308.25 246.30,305.20" fill="none" stroke="#9a98c8" stroke-width="1.05" stroke-linejoin="round" stroke-opacity="1"/>
<line x1="124.66" y1="326.41" x2="124.66" y2="332.52" stroke="#9a98c8" stroke-width="0.9"/>
<line x1="123.26" y1="326.41" x2="126.06" y2="326.41" stroke="#3a3a3a" stroke-width="0.9"/>
<line x1="123.26" y1="332.52" x2="126.06" y2="332.52" stroke="#3a3a3a" stroke-width="0.9"/>
<circle cx="124.66" cy="329.47" r="1.90" fill="#9a98c8" fill-opacity="1"/>
<line x1="134.01" y1="325.71" x2="134.01" y2="331.83" stroke="#9a98c8" stroke-width="0.9"/>
<line x1="132.61" y1="325.71" x2="135.41" y2="325.71" stroke="#3a3a3a" stroke-width="0.9"/>
<line x1="132.61" y1="331.83" x2="135.41" y2="331.83" stroke="#3a3a3a" stroke-width="0.9"/>
<circle cx="134.01" cy="328.77" r="1.90" fill="#9a98c8" fill-opacity="1"/>
<circle cx="152.73" cy="327.81" r="1.90" fill="#9a98c8" fill-opacity="1"/>
<circle cx="180.80" cy="308.25" r="1.90" fill="#9a98c8" fill-opacity="1"/>
<circle cx="246.30" cy="305.20" r="1.90" fill="#9a98c8" fill-opacity="1"/>
<polyline points="124.66,332.87 134.01,334.62 152.73,334.18 180.80,316.29 246.30,315.06" fill="none" stroke="#aa1838" stroke-width="1.05" stroke-linejoin="round" stroke-opacity="1"/>
<line x1="124.66" y1="330.43" x2="124.66" y2="335.32" stroke="#aa1838" stroke-width="0.9"/>
<line x1="123.26" y1="330.43" x2="126.06" y2="330.43" stroke="#3a3a3a" stroke-width="0.9"/>
<line x1="123.26" y1="335.32" x2="126.06" y2="335.32" stroke="#3a3a3a" stroke-width="0.9"/>
<circle cx="124.66" cy="332.87" r="1.90" fill="#aa1838" fill-opacity="1"/>
<line x1="134.01" y1="332.00" x2="134.01" y2="337.24" stroke="#aa1838" stroke-width="0.9"/>
<line x1="132.61" y1="332.00" x2="135.41" y2="332.00" stroke="#3a3a3a" stroke-width="0.9"/>
<line x1="132.61" y1="337.24" x2="135.41" y2="337.24" stroke="#3a3a3a" stroke-width="0.9"/>
<circle cx="134.01" cy="334.62" r="1.90" fill="#aa1838" fill-opacity="1"/>
<circle cx="152.73" cy="334.18" r="1.90" fill="#aa1838" fill-opacity="1"/>
<circle cx="180.80" cy="316.29" r="1.90" fill="#aa1838" fill-opacity="1"/>
<line x1="246.30" y1="312.88" x2="246.30" y2="317.25" stroke="#aa1838" stroke-width="0.9"/>
<line x1="244.90" y1="312.88" x2="247.70" y2="312.88" stroke="#3a3a3a" stroke-width="0.9"/>
<line x1="244.90" y1="317.25" x2="247.70" y2="317.25" stroke="#3a3a3a" stroke-width="0.9"/>
<circle cx="246.30" cy="315.06" r="1.90" fill="#aa1838" fill-opacity="1"/>
<text x="124.60" y="322.90" font-size="8.7" text-anchor="middle" fill="#2a2a2a" textLength="8.00" lengthAdjust="spacingAndGlyphs" >ns</text>
<text x="134.20" y="322.90" font-size="8.7" text-anchor="middle" fill="#2a2a2a" textLength="8.00" lengthAdjust="spacingAndGlyphs" >ns</text>
<polygon points="152.80,318.45 153.30,319.13 154.14,319.23 153.80,320.00 154.14,320.77 153.30,320.87 152.80,321.55 152.30,320.87 151.46,320.77 151.80,320.00 151.46,319.23 152.30,319.13" fill="#222"/>
<polygon points="180.70,299.65 181.20,300.33 182.04,300.43 181.70,301.20 182.04,301.97 181.20,302.07 180.70,302.75 180.20,302.07 179.36,301.97 179.70,301.20 179.36,300.43 180.20,300.33" fill="#222"/>
<polygon points="246.10,296.25 246.60,296.93 247.44,297.03 247.10,297.80 247.44,298.57 246.60,298.67 246.10,299.35 245.60,298.67 244.76,298.57 245.10,297.80 244.76,297.03 245.60,296.93" fill="#222"/>
<line x1="193.00" y1="346.20" x2="201.60" y2="346.20" stroke="#9a98c8" stroke-width="1.2"/>
<circle cx="197.30" cy="346.20" r="1.60" fill="#9a98c8" />
<text x="205.30" y="349.20" font-size="8.0" fill="#2e2e2e" textLength="27.50" lengthAdjust="spacingAndGlyphs" >No LNP</text>
<line x1="193.00" y1="357.10" x2="201.60" y2="357.10" stroke="#aa1838" stroke-width="1.2"/>
<circle cx="197.30" cy="357.10" r="1.60" fill="#aa1838" />
<text x="205.30" y="360.10" font-size="8.0" fill="#2e2e2e" textLength="40.30" lengthAdjust="spacingAndGlyphs" >mRNA-LNP</text>
<text x="273.30" y="275.20" font-size="10.5" font-weight="bold" fill="#000" >E</text>
<line x1="330.80" y1="274.70" x2="330.80" y2="365.60" stroke="#1e1e1e" stroke-width="1.3"/>
<line x1="327.80" y1="365.00" x2="330.80" y2="365.00" stroke="#1e1e1e" stroke-width="0.9"/>
<text x="324.70" y="368.30" font-size="8.6" text-anchor="end" fill="#2e2e2e" >0</text>
<line x1="327.80" y1="347.54" x2="330.80" y2="347.54" stroke="#1e1e1e" stroke-width="0.9"/>
<text x="324.70" y="350.84" font-size="8.6" text-anchor="end" fill="#2e2e2e" >20</text>
<line x1="327.80" y1="330.08" x2="330.80" y2="330.08" stroke="#1e1e1e" stroke-width="0.9"/>
<text x="324.70" y="333.38" font-size="8.6" text-anchor="end" fill="#2e2e2e" >40</text>
<line x1="327.80" y1="312.62" x2="330.80" y2="312.62" stroke="#1e1e1e" stroke-width="0.9"/>
<text x="324.70" y="315.92" font-size="8.6" text-anchor="end" fill="#2e2e2e" >60</text>
<line x1="327.80" y1="295.16" x2="330.80" y2="295.16" stroke="#1e1e1e" stroke-width="0.9"/>
<text x="324.70" y="298.46" font-size="8.6" text-anchor="end" fill="#2e2e2e" >80</text>
<line x1="327.80" y1="277.70" x2="330.80" y2="277.70" stroke="#1e1e1e" stroke-width="0.9"/>
<text x="324.70" y="281.00" font-size="8.6" text-anchor="end" fill="#2e2e2e" >100</text>
<line x1="329.20" y1="356.27" x2="330.80" y2="356.27" stroke="#1e1e1e" stroke-width="0.8"/>
<line x1="329.20" y1="338.81" x2="330.80" y2="338.81" stroke="#1e1e1e" stroke-width="0.8"/>
<line x1="329.20" y1="321.35" x2="330.80" y2="321.35" stroke="#1e1e1e" stroke-width="0.8"/>
<line x1="329.20" y1="303.89" x2="330.80" y2="303.89" stroke="#1e1e1e" stroke-width="0.8"/>
<line x1="329.20" y1="286.43" x2="330.80" y2="286.43" stroke="#1e1e1e" stroke-width="0.8"/>
<line x1="330.20" y1="365.00" x2="464.20" y2="365.00" stroke="#1e1e1e" stroke-width="1.4"/>
<line x1="330.80" y1="365.00" x2="330.80" y2="368.00" stroke="#1e1e1e" stroke-width="0.9"/>
<text x="330.80" y="378.50" font-size="8.6" text-anchor="middle" fill="#2e2e2e" >0</text>
<line x1="349.51" y1="365.00" x2="349.51" y2="368.00" stroke="#1e1e1e" stroke-width="0.9"/>
<text x="349.51" y="378.50" font-size="8.6" text-anchor="middle" fill="#2e2e2e" >2</text>
<line x1="368.23" y1="365.00" x2="368.23" y2="368.00" stroke="#1e1e1e" stroke-width="0.9"/>
<text x="368.23" y="378.50" font-size="8.6" text-anchor="middle" fill="#2e2e2e" >4</text>
<line x1="386.94" y1="365.00" x2="386.94" y2="368.00" stroke="#1e1e1e" stroke-width="0.9"/>
<text x="386.94" y="378.50" font-size="8.6" text-anchor="middle" fill="#2e2e2e" >6</text>
<line x1="405.66" y1="365.00" x2="405.66" y2="368.00" stroke="#1e1e1e" stroke-width="0.9"/>
<text x="405.66" y="378.50" font-size="8.6" text-anchor="middle" fill="#2e2e2e" >8</text>
<line x1="424.37" y1="365.00" x2="424.37" y2="368.00" stroke="#1e1e1e" stroke-width="0.9"/>
<text x="424.37" y="378.50" font-size="8.6" text-anchor="middle" fill="#2e2e2e" >10</text>
<line x1="443.08" y1="365.00" x2="443.08" y2="368.00" stroke="#1e1e1e" stroke-width="0.9"/>
<text x="443.08" y="378.50" font-size="8.6" text-anchor="middle" fill="#2e2e2e" >12</text>
<line x1="461.80" y1="365.00" x2="461.80" y2="368.00" stroke="#1e1e1e" stroke-width="0.9"/>
<text x="461.80" y="378.50" font-size="8.6" text-anchor="middle" fill="#2e2e2e" >14</text>
<text x="396.60" y="392.50" font-size="10.3" text-anchor="middle" fill="#333" textLength="13.20" lengthAdjust="spacingAndGlyphs" >Day</text>
<text x="305.20" y="319.40" font-size="10.2" text-anchor="middle" fill="#333" textLength="76.40" lengthAdjust="spacingAndGlyphs" transform="rotate(-90 305.20 319.40)">CD62P<tspan font-size="6.5" dy="-3.6">+</tspan><tspan dy="3.6"> platelets (%)</tspan></text>
<polyline points="340.16,323.53 349.51,305.20 368.23,294.03 396.30,291.23 461.80,299.96" fill="none" stroke="#3aaa35" stroke-width="1.05" stroke-linejoin="round" stroke-opacity="1"/>
<line x1="340.16" y1="321.79" x2="340.16" y2="325.28" stroke="#3aaa35" stroke-width="0.9"/>
<line x1="338.76" y1="321.79" x2="341.56" y2="321.79" stroke="#3a3a3a" stroke-width="0.9"/>
<line x1="338.76" y1="325.28" x2="341.56" y2="325.28" stroke="#3a3a3a" stroke-width="0.9"/>
<circle cx="340.16" cy="323.53" r="1.90" fill="#3aaa35" fill-opacity="1"/>
<circle cx="349.51" cy="305.20" r="1.90" fill="#3aaa35" fill-opacity="1"/>
<circle cx="368.23" cy="294.03" r="1.90" fill="#3aaa35" fill-opacity="1"/>
<circle cx="396.30" cy="291.23" r="1.90" fill="#3aaa35" fill-opacity="1"/>
<line x1="461.80" y1="298.65" x2="461.80" y2="301.27" stroke="#3aaa35" stroke-width="0.9"/>
<line x1="460.40" y1="298.65" x2="463.20" y2="298.65" stroke="#3a3a3a" stroke-width="0.9"/>
<line x1="460.40" y1="301.27" x2="463.20" y2="301.27" stroke="#3a3a3a" stroke-width="0.9"/>
<circle cx="461.80" cy="299.96" r="1.90" fill="#3aaa35" fill-opacity="1"/>
<polyline points="340.16,321.79 349.51,305.20 368.23,294.03 396.30,292.63 461.80,303.45" fill="none" stroke="#114a7d" stroke-width="1.05" stroke-linejoin="round" stroke-opacity="1"/>
<line x1="340.16" y1="319.60" x2="340.16" y2="323.97" stroke="#114a7d" stroke-width="0.9"/>
<line x1="338.76" y1="319.60" x2="341.56" y2="319.60" stroke="#3a3a3a" stroke-width="0.9"/>
<line x1="338.76" y1="323.97" x2="341.56" y2="323.97" stroke="#3a3a3a" stroke-width="0.9"/>
<circle cx="340.16" cy="321.79" r="1.90" fill="#114a7d" fill-opacity="1"/>
<circle cx="349.51" cy="305.20" r="1.90" fill="#114a7d" fill-opacity="1"/>
<circle cx="368.23" cy="294.03" r="1.90" fill="#114a7d" fill-opacity="1"/>
<line x1="396.30" y1="291.32" x2="396.30" y2="293.94" stroke="#114a7d" stroke-width="0.9"/>
<line x1="394.90" y1="291.32" x2="397.70" y2="291.32" stroke="#3a3a3a" stroke-width="0.9"/>
<line x1="394.90" y1="293.94" x2="397.70" y2="293.94" stroke="#3a3a3a" stroke-width="0.9"/>
<circle cx="396.30" cy="292.63" r="1.90" fill="#114a7d" fill-opacity="1"/>
<circle cx="461.80" cy="303.45" r="1.90" fill="#114a7d" fill-opacity="1"/>
<text x="338.50" y="314.70" font-size="8.7" text-anchor="middle" fill="#2a2a2a" textLength="8.00" lengthAdjust="spacingAndGlyphs" >ns</text>
<text x="348.70" y="299.90" font-size="8.7" text-anchor="middle" fill="#2a2a2a" textLength="8.00" lengthAdjust="spacingAndGlyphs" >ns</text>
<text x="368.00" y="288.50" font-size="8.7" text-anchor="middle" fill="#2a2a2a" textLength="8.00" lengthAdjust="spacingAndGlyphs" >ns</text>
<text x="396.50" y="285.90" font-size="8.7" text-anchor="middle" fill="#2a2a2a" textLength="8.00" lengthAdjust="spacingAndGlyphs" >ns</text>
<text x="461.50" y="296.60" font-size="8.7" text-anchor="middle" fill="#2a2a2a" textLength="8.00" lengthAdjust="spacingAndGlyphs" >ns</text>
<line x1="409.20" y1="346.60" x2="417.80" y2="346.60" stroke="#3aaa35" stroke-width="1.2"/>
<circle cx="413.50" cy="346.60" r="1.60" fill="#3aaa35" />
<text x="421.50" y="349.60" font-size="8.0" fill="#2e2e2e" textLength="27.50" lengthAdjust="spacingAndGlyphs" >No LNP</text>
<line x1="409.20" y1="357.70" x2="417.80" y2="357.70" stroke="#114a7d" stroke-width="1.2"/>
<circle cx="413.50" cy="357.70" r="1.60" fill="#114a7d" />
<text x="421.50" y="360.70" font-size="8.0" fill="#2e2e2e" textLength="40.30" lengthAdjust="spacingAndGlyphs" >mRNA-LNP</text>
<text x="57.50" y="408.20" font-size="10.5" font-weight="bold" fill="#000" >F</text>
<line x1="115.30" y1="407.00" x2="115.30" y2="497.60" stroke="#1e1e1e" stroke-width="1.3"/>
<line x1="112.30" y1="497.00" x2="115.30" y2="497.00" stroke="#1e1e1e" stroke-width="0.9"/>
<text x="109.20" y="500.30" font-size="8.6" text-anchor="end" fill="#2e2e2e" >0</text>
<line x1="112.30" y1="479.60" x2="115.30" y2="479.60" stroke="#1e1e1e" stroke-width="0.9"/>
<text x="109.20" y="482.90" font-size="8.6" text-anchor="end" fill="#2e2e2e" >10</text>
<line x1="112.30" y1="462.20" x2="115.30" y2="462.20" stroke="#1e1e1e" stroke-width="0.9"/>
<text x="109.20" y="465.50" font-size="8.6" text-anchor="end" fill="#2e2e2e" >20</text>
<line x1="112.30" y1="444.80" x2="115.30" y2="444.80" stroke="#1e1e1e" stroke-width="0.9"/>
<text x="109.20" y="448.10" font-size="8.6" text-anchor="end" fill="#2e2e2e" >30</text>
<line x1="112.30" y1="427.40" x2="115.30" y2="427.40" stroke="#1e1e1e" stroke-width="0.9"/>
<text x="109.20" y="430.70" font-size="8.6" text-anchor="end" fill="#2e2e2e" >40</text>
<line x1="112.30" y1="410.00" x2="115.30" y2="410.00" stroke="#1e1e1e" stroke-width="0.9"/>
<text x="109.20" y="413.30" font-size="8.6" text-anchor="end" fill="#2e2e2e" >50</text>
<line x1="113.70" y1="488.30" x2="115.30" y2="488.30" stroke="#1e1e1e" stroke-width="0.8"/>
<line x1="113.70" y1="470.90" x2="115.30" y2="470.90" stroke="#1e1e1e" stroke-width="0.8"/>
<line x1="113.70" y1="453.50" x2="115.30" y2="453.50" stroke="#1e1e1e" stroke-width="0.8"/>
<line x1="113.70" y1="436.10" x2="115.30" y2="436.10" stroke="#1e1e1e" stroke-width="0.8"/>
<line x1="113.70" y1="418.70" x2="115.30" y2="418.70" stroke="#1e1e1e" stroke-width="0.8"/>
<line x1="114.70" y1="497.00" x2="248.70" y2="497.00" stroke="#1e1e1e" stroke-width="1.4"/>
<line x1="115.30" y1="497.00" x2="115.30" y2="500.00" stroke="#1e1e1e" stroke-width="0.9"/>
<text x="115.30" y="510.50" font-size="8.6" text-anchor="middle" fill="#2e2e2e" >0</text>
<line x1="134.01" y1="497.00" x2="134.01" y2="500.00" stroke="#1e1e1e" stroke-width="0.9"/>
<text x="134.01" y="510.50" font-size="8.6" text-anchor="middle" fill="#2e2e2e" >2</text>
<line x1="152.73" y1="497.00" x2="152.73" y2="500.00" stroke="#1e1e1e" stroke-width="0.9"/>
<text x="152.73" y="510.50" font-size="8.6" text-anchor="middle" fill="#2e2e2e" >4</text>
<line x1="171.44" y1="497.00" x2="171.44" y2="500.00" stroke="#1e1e1e" stroke-width="0.9"/>
<text x="171.44" y="510.50" font-size="8.6" text-anchor="middle" fill="#2e2e2e" >6</text>
<line x1="190.16" y1="497.00" x2="190.16" y2="500.00" stroke="#1e1e1e" stroke-width="0.9"/>
<text x="190.16" y="510.50" font-size="8.6" text-anchor="middle" fill="#2e2e2e" >8</text>
<line x1="208.87" y1="497.00" x2="208.87" y2="500.00" stroke="#1e1e1e" stroke-width="0.9"/>
<text x="208.87" y="510.50" font-size="8.6" text-anchor="middle" fill="#2e2e2e" >10</text>
<line x1="227.58" y1="497.00" x2="227.58" y2="500.00" stroke="#1e1e1e" stroke-width="0.9"/>
<text x="227.58" y="510.50" font-size="8.6" text-anchor="middle" fill="#2e2e2e" >12</text>
<line x1="246.30" y1="497.00" x2="246.30" y2="500.00" stroke="#1e1e1e" stroke-width="0.9"/>
<text x="246.30" y="510.50" font-size="8.6" text-anchor="middle" fill="#2e2e2e" >14</text>
<text x="181.10" y="524.50" font-size="10.3" text-anchor="middle" fill="#333" textLength="13.20" lengthAdjust="spacingAndGlyphs" >Day</text>
<text x="90.00" y="450.10" font-size="10.2" text-anchor="middle" fill="#333" textLength="82.30" lengthAdjust="spacingAndGlyphs" transform="rotate(-90 90.00 450.10)">Annexin V<tspan font-size="6.5" dy="-3.6">+</tspan><tspan dy="3.6"> platelets (%)</tspan></text>
<polyline points="124.66,492.65 134.01,493.87 152.73,489.17 180.80,482.56 246.30,437.32" fill="none" stroke="#9a98c8" stroke-width="1.05" stroke-linejoin="round" stroke-opacity="1"/>
<circle cx="124.66" cy="492.65" r="1.90" fill="#9a98c8" fill-opacity="1"/>
<circle cx="134.01" cy="493.87" r="1.90" fill="#9a98c8" fill-opacity="1"/>
<circle cx="152.73" cy="489.17" r="1.90" fill="#9a98c8" fill-opacity="1"/>
<circle cx="180.80" cy="482.56" r="1.90" fill="#9a98c8" fill-opacity="1"/>
<line x1="246.30" y1="433.84" x2="246.30" y2="440.80" stroke="#9a98c8" stroke-width="0.9"/>
<line x1="244.90" y1="433.84" x2="247.70" y2="433.84" stroke="#3a3a3a" stroke-width="0.9"/>
<line x1="244.90" y1="440.80" x2="247.70" y2="440.80" stroke="#3a3a3a" stroke-width="0.9"/>
<circle cx="246.30" cy="437.32" r="1.90" fill="#9a98c8" fill-opacity="1"/>
<polyline points="124.66,492.82 134.01,493.87 152.73,492.30 180.80,482.73 246.30,443.06" fill="none" stroke="#aa1838" stroke-width="1.05" stroke-linejoin="round" stroke-opacity="1"/>
<circle cx="124.66" cy="492.82" r="1.90" fill="#aa1838" fill-opacity="1"/>
<circle cx="134.01" cy="493.87" r="1.90" fill="#aa1838" fill-opacity="1"/>
<circle cx="152.73" cy="492.30" r="1.90" fill="#aa1838" fill-opacity="1"/>
<circle cx="180.80" cy="482.73" r="1.90" fill="#aa1838" fill-opacity="1"/>
<line x1="246.30" y1="439.93" x2="246.30" y2="446.19" stroke="#aa1838" stroke-width="0.9"/>
<line x1="244.90" y1="439.93" x2="247.70" y2="439.93" stroke="#3a3a3a" stroke-width="0.9"/>
<line x1="244.90" y1="446.19" x2="247.70" y2="446.19" stroke="#3a3a3a" stroke-width="0.9"/>
<circle cx="246.30" cy="443.06" r="1.90" fill="#aa1838" fill-opacity="1"/>
<text x="125.40" y="487.10" font-size="8.7" text-anchor="middle" fill="#2a2a2a" textLength="8.00" lengthAdjust="spacingAndGlyphs" >ns</text>
<text x="134.50" y="488.90" font-size="8.7" text-anchor="middle" fill="#2a2a2a" textLength="8.00" lengthAdjust="spacingAndGlyphs" >ns</text>
<text x="153.00" y="485.90" font-size="8.7" text-anchor="middle" fill="#2a2a2a" textLength="8.00" lengthAdjust="spacingAndGlyphs" >ns</text>
<text x="180.70" y="478.30" font-size="8.7" text-anchor="middle" fill="#2a2a2a" textLength="8.00" lengthAdjust="spacingAndGlyphs" >ns</text>
<text x="246.00" y="430.70" font-size="8.7" text-anchor="middle" fill="#2a2a2a" textLength="8.00" lengthAdjust="spacingAndGlyphs" >ns</text>
<line x1="120.40" y1="415.60" x2="129.00" y2="415.60" stroke="#9a98c8" stroke-width="1.2"/>
<circle cx="124.70" cy="415.60" r="1.60" fill="#9a98c8" />
<text x="132.70" y="418.60" font-size="8.0" fill="#2e2e2e" textLength="27.50" lengthAdjust="spacingAndGlyphs" >No LNP</text>
<line x1="120.40" y1="427.30" x2="129.00" y2="427.30" stroke="#aa1838" stroke-width="1.2"/>
<circle cx="124.70" cy="427.30" r="1.60" fill="#aa1838" />
<text x="132.70" y="430.30" font-size="8.0" fill="#2e2e2e" textLength="40.30" lengthAdjust="spacingAndGlyphs" >mRNA-LNP</text>
<text x="272.80" y="408.80" font-size="10.8" font-weight="bold" fill="#000" textLength="9.00" lengthAdjust="spacingAndGlyphs" >G</text>
<line x1="331.20" y1="407.00" x2="331.20" y2="497.60" stroke="#1e1e1e" stroke-width="1.3"/>
<line x1="328.20" y1="497.00" x2="331.20" y2="497.00" stroke="#1e1e1e" stroke-width="0.9"/>
<text x="325.10" y="500.30" font-size="8.6" text-anchor="end" fill="#2e2e2e" >0</text>
<line x1="328.20" y1="479.60" x2="331.20" y2="479.60" stroke="#1e1e1e" stroke-width="0.9"/>
<text x="325.10" y="482.90" font-size="8.6" text-anchor="end" fill="#2e2e2e" >10</text>
<line x1="328.20" y1="462.20" x2="331.20" y2="462.20" stroke="#1e1e1e" stroke-width="0.9"/>
<text x="325.10" y="465.50" font-size="8.6" text-anchor="end" fill="#2e2e2e" >20</text>
<line x1="328.20" y1="444.80" x2="331.20" y2="444.80" stroke="#1e1e1e" stroke-width="0.9"/>
<text x="325.10" y="448.10" font-size="8.6" text-anchor="end" fill="#2e2e2e" >30</text>
<line x1="328.20" y1="427.40" x2="331.20" y2="427.40" stroke="#1e1e1e" stroke-width="0.9"/>
<text x="325.10" y="430.70" font-size="8.6" text-anchor="end" fill="#2e2e2e" >40</text>
<line x1="328.20" y1="410.00" x2="331.20" y2="410.00" stroke="#1e1e1e" stroke-width="0.9"/>
<text x="325.10" y="413.30" font-size="8.6" text-anchor="end" fill="#2e2e2e" >50</text>
<line x1="329.60" y1="488.30" x2="331.20" y2="488.30" stroke="#1e1e1e" stroke-width="0.8"/>
<line x1="329.60" y1="470.90" x2="331.20" y2="470.90" stroke="#1e1e1e" stroke-width="0.8"/>
<line x1="329.60" y1="453.50" x2="331.20" y2="453.50" stroke="#1e1e1e" stroke-width="0.8"/>
<line x1="329.60" y1="436.10" x2="331.20" y2="436.10" stroke="#1e1e1e" stroke-width="0.8"/>
<line x1="329.60" y1="418.70" x2="331.20" y2="418.70" stroke="#1e1e1e" stroke-width="0.8"/>
<line x1="330.60" y1="497.00" x2="464.60" y2="497.00" stroke="#1e1e1e" stroke-width="1.4"/>
<line x1="331.20" y1="497.00" x2="331.20" y2="500.00" stroke="#1e1e1e" stroke-width="0.9"/>
<text x="331.20" y="510.50" font-size="8.6" text-anchor="middle" fill="#2e2e2e" >0</text>
<line x1="349.91" y1="497.00" x2="349.91" y2="500.00" stroke="#1e1e1e" stroke-width="0.9"/>
<text x="349.91" y="510.50" font-size="8.6" text-anchor="middle" fill="#2e2e2e" >2</text>
<line x1="368.63" y1="497.00" x2="368.63" y2="500.00" stroke="#1e1e1e" stroke-width="0.9"/>
<text x="368.63" y="510.50" font-size="8.6" text-anchor="middle" fill="#2e2e2e" >4</text>
<line x1="387.34" y1="497.00" x2="387.34" y2="500.00" stroke="#1e1e1e" stroke-width="0.9"/>
<text x="387.34" y="510.50" font-size="8.6" text-anchor="middle" fill="#2e2e2e" >6</text>
<line x1="406.06" y1="497.00" x2="406.06" y2="500.00" stroke="#1e1e1e" stroke-width="0.9"/>
<text x="406.06" y="510.50" font-size="8.6" text-anchor="middle" fill="#2e2e2e" >8</text>
<line x1="424.77" y1="497.00" x2="424.77" y2="500.00" stroke="#1e1e1e" stroke-width="0.9"/>
<text x="424.77" y="510.50" font-size="8.6" text-anchor="middle" fill="#2e2e2e" >10</text>
<line x1="443.48" y1="497.00" x2="443.48" y2="500.00" stroke="#1e1e1e" stroke-width="0.9"/>
<text x="443.48" y="510.50" font-size="8.6" text-anchor="middle" fill="#2e2e2e" >12</text>
<line x1="462.20" y1="497.00" x2="462.20" y2="500.00" stroke="#1e1e1e" stroke-width="0.9"/>
<text x="462.20" y="510.50" font-size="8.6" text-anchor="middle" fill="#2e2e2e" >14</text>
<line x1="340.56" y1="497.00" x2="340.56" y2="498.80" stroke="#1e1e1e" stroke-width="0.8"/>
<line x1="359.27" y1="497.00" x2="359.27" y2="498.80" stroke="#1e1e1e" stroke-width="0.8"/>
<line x1="377.99" y1="497.00" x2="377.99" y2="498.80" stroke="#1e1e1e" stroke-width="0.8"/>
<line x1="396.70" y1="497.00" x2="396.70" y2="498.80" stroke="#1e1e1e" stroke-width="0.8"/>
<line x1="415.41" y1="497.00" x2="415.41" y2="498.80" stroke="#1e1e1e" stroke-width="0.8"/>
<line x1="434.13" y1="497.00" x2="434.13" y2="498.80" stroke="#1e1e1e" stroke-width="0.8"/>
<line x1="452.84" y1="497.00" x2="452.84" y2="498.80" stroke="#1e1e1e" stroke-width="0.8"/>
<text x="397.00" y="524.50" font-size="10.3" text-anchor="middle" fill="#333" textLength="13.20" lengthAdjust="spacingAndGlyphs" >Day</text>
<text x="305.50" y="450.10" font-size="10.2" text-anchor="middle" fill="#333" textLength="82.30" lengthAdjust="spacingAndGlyphs" transform="rotate(-90 305.50 450.10)">Annexin V<tspan font-size="6.5" dy="-3.6">+</tspan><tspan dy="3.6"> platelets (%)</tspan></text>
<polyline points="340.56,490.91 349.91,490.74 368.63,471.60 396.70,453.15 462.20,441.49" fill="none" stroke="#3aaa35" stroke-width="1.05" stroke-linejoin="round" stroke-opacity="1"/>
<line x1="340.56" y1="488.30" x2="340.56" y2="493.52" stroke="#3aaa35" stroke-width="0.9"/>
<line x1="339.16" y1="488.30" x2="341.96" y2="488.30" stroke="#3a3a3a" stroke-width="0.9"/>
<line x1="339.16" y1="493.52" x2="341.96" y2="493.52" stroke="#3a3a3a" stroke-width="0.9"/>
<circle cx="340.56" cy="490.91" r="1.90" fill="#3aaa35" fill-opacity="1"/>
<circle cx="349.91" cy="490.74" r="1.90" fill="#3aaa35" fill-opacity="1"/>
<line x1="368.63" y1="468.12" x2="368.63" y2="475.08" stroke="#3aaa35" stroke-width="0.9"/>
<line x1="367.23" y1="468.12" x2="370.03" y2="468.12" stroke="#3a3a3a" stroke-width="0.9"/>
<line x1="367.23" y1="475.08" x2="370.03" y2="475.08" stroke="#3a3a3a" stroke-width="0.9"/>
<circle cx="368.63" cy="471.60" r="1.90" fill="#3aaa35" fill-opacity="1"/>
<line x1="396.70" y1="450.54" x2="396.70" y2="455.76" stroke="#3aaa35" stroke-width="0.9"/>
<line x1="395.30" y1="450.54" x2="398.10" y2="450.54" stroke="#3a3a3a" stroke-width="0.9"/>
<line x1="395.30" y1="455.76" x2="398.10" y2="455.76" stroke="#3a3a3a" stroke-width="0.9"/>
<circle cx="396.70" cy="453.15" r="1.90" fill="#3aaa35" fill-opacity="1"/>
<line x1="462.20" y1="438.88" x2="462.20" y2="444.10" stroke="#3aaa35" stroke-width="0.9"/>
<line x1="460.80" y1="438.88" x2="463.60" y2="438.88" stroke="#3a3a3a" stroke-width="0.9"/>
<line x1="460.80" y1="444.10" x2="463.60" y2="444.10" stroke="#3a3a3a" stroke-width="0.9"/>
<circle cx="462.20" cy="441.49" r="1.90" fill="#3aaa35" fill-opacity="1"/>
<polyline points="340.56,490.04 349.91,490.74 368.63,476.12 396.70,450.89 462.20,437.32" fill="none" stroke="#114a7d" stroke-width="1.05" stroke-linejoin="round" stroke-opacity="1"/>
<line x1="340.56" y1="487.43" x2="340.56" y2="492.65" stroke="#114a7d" stroke-width="0.9"/>
<line x1="339.16" y1="487.43" x2="341.96" y2="487.43" stroke="#3a3a3a" stroke-width="0.9"/>
<line x1="339.16" y1="492.65" x2="341.96" y2="492.65" stroke="#3a3a3a" stroke-width="0.9"/>
<circle cx="340.56" cy="490.04" r="1.90" fill="#114a7d" fill-opacity="1"/>
<circle cx="349.91" cy="490.74" r="1.90" fill="#114a7d" fill-opacity="1"/>
<line x1="368.63" y1="474.38" x2="368.63" y2="477.86" stroke="#114a7d" stroke-width="0.9"/>
<line x1="367.23" y1="474.38" x2="370.03" y2="474.38" stroke="#3a3a3a" stroke-width="0.9"/>
<line x1="367.23" y1="477.86" x2="370.03" y2="477.86" stroke="#3a3a3a" stroke-width="0.9"/>
<circle cx="368.63" cy="476.12" r="1.90" fill="#114a7d" fill-opacity="1"/>
<line x1="396.70" y1="448.28" x2="396.70" y2="453.50" stroke="#114a7d" stroke-width="0.9"/>
<line x1="395.30" y1="448.28" x2="398.10" y2="448.28" stroke="#3a3a3a" stroke-width="0.9"/>
<line x1="395.30" y1="453.50" x2="398.10" y2="453.50" stroke="#3a3a3a" stroke-width="0.9"/>
<circle cx="396.70" cy="450.89" r="1.90" fill="#114a7d" fill-opacity="1"/>
<line x1="462.20" y1="432.97" x2="462.20" y2="441.67" stroke="#114a7d" stroke-width="0.9"/>
<line x1="460.80" y1="432.97" x2="463.60" y2="432.97" stroke="#3a3a3a" stroke-width="0.9"/>
<line x1="460.80" y1="441.67" x2="463.60" y2="441.67" stroke="#3a3a3a" stroke-width="0.9"/>
<circle cx="462.20" cy="437.32" r="1.90" fill="#114a7d" fill-opacity="1"/>
<text x="339.50" y="484.40" font-size="8.7" text-anchor="middle" fill="#2a2a2a" textLength="8.00" lengthAdjust="spacingAndGlyphs" >ns</text>
<text x="350.00" y="485.70" font-size="8.7" text-anchor="middle" fill="#2a2a2a" textLength="8.00" lengthAdjust="spacingAndGlyphs" >ns</text>
<text x="369.00" y="464.90" font-size="8.7" text-anchor="middle" fill="#2a2a2a" textLength="8.00" lengthAdjust="spacingAndGlyphs" >ns</text>
<text x="396.50" y="445.20" font-size="8.7" text-anchor="middle" fill="#2a2a2a" textLength="8.00" lengthAdjust="spacingAndGlyphs" >ns</text>
<text x="462.00" y="429.50" font-size="8.7" text-anchor="middle" fill="#2a2a2a" textLength="8.00" lengthAdjust="spacingAndGlyphs" >ns</text>
<line x1="337.40" y1="415.40" x2="346.00" y2="415.40" stroke="#3aaa35" stroke-width="1.2"/>
<circle cx="341.70" cy="415.40" r="1.60" fill="#3aaa35" />
<text x="349.70" y="418.40" font-size="8.0" fill="#2e2e2e" textLength="27.50" lengthAdjust="spacingAndGlyphs" >No LNP</text>
<line x1="337.40" y1="427.30" x2="346.00" y2="427.30" stroke="#114a7d" stroke-width="1.2"/>
<circle cx="341.70" cy="427.30" r="1.60" fill="#114a7d" />
<text x="349.70" y="430.30" font-size="8.0" fill="#2e2e2e" textLength="40.30" lengthAdjust="spacingAndGlyphs" >mRNA-LNP</text>
<text x="57.50" y="540.80" font-size="10.5" font-weight="bold" fill="#000" >H</text>
<line x1="114.90" y1="540.52" x2="114.90" y2="631.40" stroke="#1e1e1e" stroke-width="1.3"/>
<line x1="111.90" y1="630.80" x2="114.90" y2="630.80" stroke="#1e1e1e" stroke-width="0.9"/>
<text x="108.80" y="634.10" font-size="8.6" text-anchor="end" fill="#2e2e2e" >0</text>
<line x1="111.90" y1="608.98" x2="114.90" y2="608.98" stroke="#1e1e1e" stroke-width="0.9"/>
<text x="108.80" y="612.28" font-size="8.6" text-anchor="end" fill="#2e2e2e" >20</text>
<line x1="111.90" y1="587.16" x2="114.90" y2="587.16" stroke="#1e1e1e" stroke-width="0.9"/>
<text x="108.80" y="590.46" font-size="8.6" text-anchor="end" fill="#2e2e2e" >40</text>
<line x1="111.90" y1="565.34" x2="114.90" y2="565.34" stroke="#1e1e1e" stroke-width="0.9"/>
<text x="108.80" y="568.64" font-size="8.6" text-anchor="end" fill="#2e2e2e" >60</text>
<line x1="111.90" y1="543.52" x2="114.90" y2="543.52" stroke="#1e1e1e" stroke-width="0.9"/>
<text x="108.80" y="546.82" font-size="8.6" text-anchor="end" fill="#2e2e2e" >80</text>
<line x1="113.30" y1="619.89" x2="114.90" y2="619.89" stroke="#1e1e1e" stroke-width="0.8"/>
<line x1="113.30" y1="598.07" x2="114.90" y2="598.07" stroke="#1e1e1e" stroke-width="0.8"/>
<line x1="113.30" y1="576.25" x2="114.90" y2="576.25" stroke="#1e1e1e" stroke-width="0.8"/>
<line x1="113.30" y1="554.43" x2="114.90" y2="554.43" stroke="#1e1e1e" stroke-width="0.8"/>
<line x1="114.30" y1="630.80" x2="248.30" y2="630.80" stroke="#1e1e1e" stroke-width="1.4"/>
<line x1="114.90" y1="630.80" x2="114.90" y2="633.80" stroke="#1e1e1e" stroke-width="0.9"/>
<text x="114.90" y="644.30" font-size="8.6" text-anchor="middle" fill="#2e2e2e" >0</text>
<line x1="133.61" y1="630.80" x2="133.61" y2="633.80" stroke="#1e1e1e" stroke-width="0.9"/>
<text x="133.61" y="644.30" font-size="8.6" text-anchor="middle" fill="#2e2e2e" >2</text>
<line x1="152.33" y1="630.80" x2="152.33" y2="633.80" stroke="#1e1e1e" stroke-width="0.9"/>
<text x="152.33" y="644.30" font-size="8.6" text-anchor="middle" fill="#2e2e2e" >4</text>
<line x1="171.04" y1="630.80" x2="171.04" y2="633.80" stroke="#1e1e1e" stroke-width="0.9"/>
<text x="171.04" y="644.30" font-size="8.6" text-anchor="middle" fill="#2e2e2e" >6</text>
<line x1="189.76" y1="630.80" x2="189.76" y2="633.80" stroke="#1e1e1e" stroke-width="0.9"/>
<text x="189.76" y="644.30" font-size="8.6" text-anchor="middle" fill="#2e2e2e" >8</text>
<line x1="208.47" y1="630.80" x2="208.47" y2="633.80" stroke="#1e1e1e" stroke-width="0.9"/>
<text x="208.47" y="644.30" font-size="8.6" text-anchor="middle" fill="#2e2e2e" >10</text>
<line x1="227.18" y1="630.80" x2="227.18" y2="633.80" stroke="#1e1e1e" stroke-width="0.9"/>
<text x="227.18" y="644.30" font-size="8.6" text-anchor="middle" fill="#2e2e2e" >12</text>
<line x1="245.90" y1="630.80" x2="245.90" y2="633.80" stroke="#1e1e1e" stroke-width="0.9"/>
<text x="245.90" y="644.30" font-size="8.6" text-anchor="middle" fill="#2e2e2e" >14</text>
<text x="180.70" y="658.30" font-size="10.3" text-anchor="middle" fill="#333" textLength="13.20" lengthAdjust="spacingAndGlyphs" >Day</text>
<text x="81.00" y="584.90" font-size="10.2" text-anchor="middle" fill="#333" textLength="77.80" lengthAdjust="spacingAndGlyphs" transform="rotate(-90 81.00 584.90)" >Maximal clot firmness</text>
<text x="94.00" y="585.70" font-size="10.2" text-anchor="middle" fill="#333" textLength="19.40" lengthAdjust="spacingAndGlyphs" transform="rotate(-90 94.00 585.70)" >(mm)</text>
<polyline points="124.26,566.43 133.61,574.72 152.33,583.78 180.40,591.31 245.90,616.40" fill="none" stroke="#9a98c8" stroke-width="1.05" stroke-linejoin="round" stroke-opacity="1"/>
<circle cx="124.26" cy="566.43" r="1.90" fill="#9a98c8" fill-opacity="1"/>
<circle cx="133.61" cy="574.72" r="1.90" fill="#9a98c8" fill-opacity="1"/>
<circle cx="152.33" cy="583.78" r="1.90" fill="#9a98c8" fill-opacity="1"/>
<circle cx="180.40" cy="591.31" r="1.90" fill="#9a98c8" fill-opacity="1"/>
<circle cx="245.90" cy="616.40" r="1.90" fill="#9a98c8" fill-opacity="1"/>
<polyline points="124.26,566.43 133.61,574.72 152.33,583.78 180.40,591.31 245.90,610.51" fill="none" stroke="#aa1838" stroke-width="1.05" stroke-linejoin="round" stroke-opacity="1"/>
<circle cx="124.26" cy="566.43" r="1.90" fill="#aa1838" fill-opacity="1"/>
<circle cx="133.61" cy="574.72" r="1.90" fill="#aa1838" fill-opacity="1"/>
<circle cx="152.33" cy="583.78" r="1.90" fill="#aa1838" fill-opacity="1"/>
<line x1="180.40" y1="589.12" x2="180.40" y2="593.49" stroke="#aa1838" stroke-width="0.9"/>
<line x1="179.00" y1="589.12" x2="181.80" y2="589.12" stroke="#3a3a3a" stroke-width="0.9"/>
<line x1="179.00" y1="593.49" x2="181.80" y2="593.49" stroke="#3a3a3a" stroke-width="0.9"/>
<circle cx="180.40" cy="591.31" r="1.90" fill="#aa1838" fill-opacity="1"/>
<line x1="245.90" y1="604.51" x2="245.90" y2="616.51" stroke="#aa1838" stroke-width="0.9"/>
<line x1="244.50" y1="604.51" x2="247.30" y2="604.51" stroke="#3a3a3a" stroke-width="0.9"/>
<line x1="244.50" y1="616.51" x2="247.30" y2="616.51" stroke="#3a3a3a" stroke-width="0.9"/>
<circle cx="245.90" cy="610.51" r="1.90" fill="#aa1838" fill-opacity="1"/>
<text x="124.50" y="561.60" font-size="8.7" text-anchor="middle" fill="#2a2a2a" textLength="8.00" lengthAdjust="spacingAndGlyphs" >ns</text>
<text x="134.50" y="569.90" font-size="8.7" text-anchor="middle" fill="#2a2a2a" textLength="8.00" lengthAdjust="spacingAndGlyphs" >ns</text>
<text x="152.50" y="578.50" font-size="8.7" text-anchor="middle" fill="#2a2a2a" textLength="8.00" lengthAdjust="spacingAndGlyphs" >ns</text>
<text x="180.50" y="585.80" font-size="8.7" text-anchor="middle" fill="#2a2a2a" textLength="8.00" lengthAdjust="spacingAndGlyphs" >ns</text>
<text x="246.00" y="601.40" font-size="8.7" text-anchor="middle" fill="#2a2a2a" textLength="8.00" lengthAdjust="spacingAndGlyphs" >ns</text>
<line x1="120.40" y1="611.60" x2="129.00" y2="611.60" stroke="#9a98c8" stroke-width="1.2"/>
<circle cx="124.70" cy="611.60" r="1.60" fill="#9a98c8" />
<text x="132.70" y="614.60" font-size="8.0" fill="#2e2e2e" textLength="27.50" lengthAdjust="spacingAndGlyphs" >No LNP</text>
<line x1="120.40" y1="624.20" x2="129.00" y2="624.20" stroke="#aa1838" stroke-width="1.2"/>
<circle cx="124.70" cy="624.20" r="1.60" fill="#aa1838" />
<text x="132.70" y="627.20" font-size="8.0" fill="#2e2e2e" textLength="40.30" lengthAdjust="spacingAndGlyphs" >mRNA-LNP</text>
<rect x="273.70" y="532.90" width="2.50" height="7.70" fill="#000" />
<line x1="330.90" y1="540.52" x2="330.90" y2="631.40" stroke="#1e1e1e" stroke-width="1.3"/>
<line x1="327.90" y1="630.80" x2="330.90" y2="630.80" stroke="#1e1e1e" stroke-width="0.9"/>
<text x="324.80" y="634.10" font-size="8.6" text-anchor="end" fill="#2e2e2e" >0</text>
<line x1="327.90" y1="608.98" x2="330.90" y2="608.98" stroke="#1e1e1e" stroke-width="0.9"/>
<text x="324.80" y="612.28" font-size="8.6" text-anchor="end" fill="#2e2e2e" >20</text>
<line x1="327.90" y1="587.16" x2="330.90" y2="587.16" stroke="#1e1e1e" stroke-width="0.9"/>
<text x="324.80" y="590.46" font-size="8.6" text-anchor="end" fill="#2e2e2e" >40</text>
<line x1="327.90" y1="565.34" x2="330.90" y2="565.34" stroke="#1e1e1e" stroke-width="0.9"/>
<text x="324.80" y="568.64" font-size="8.6" text-anchor="end" fill="#2e2e2e" >60</text>
<line x1="327.90" y1="543.52" x2="330.90" y2="543.52" stroke="#1e1e1e" stroke-width="0.9"/>
<text x="324.80" y="546.82" font-size="8.6" text-anchor="end" fill="#2e2e2e" >80</text>
<line x1="329.30" y1="619.89" x2="330.90" y2="619.89" stroke="#1e1e1e" stroke-width="0.8"/>
<line x1="329.30" y1="598.07" x2="330.90" y2="598.07" stroke="#1e1e1e" stroke-width="0.8"/>
<line x1="329.30" y1="576.25" x2="330.90" y2="576.25" stroke="#1e1e1e" stroke-width="0.8"/>
<line x1="329.30" y1="554.43" x2="330.90" y2="554.43" stroke="#1e1e1e" stroke-width="0.8"/>
<line x1="330.30" y1="630.80" x2="464.30" y2="630.80" stroke="#1e1e1e" stroke-width="1.4"/>
<line x1="330.90" y1="630.80" x2="330.90" y2="633.80" stroke="#1e1e1e" stroke-width="0.9"/>
<text x="330.90" y="644.30" font-size="8.6" text-anchor="middle" fill="#2e2e2e" >0</text>
<line x1="349.61" y1="630.80" x2="349.61" y2="633.80" stroke="#1e1e1e" stroke-width="0.9"/>
<text x="349.61" y="644.30" font-size="8.6" text-anchor="middle" fill="#2e2e2e" >2</text>
<line x1="368.33" y1="630.80" x2="368.33" y2="633.80" stroke="#1e1e1e" stroke-width="0.9"/>
<text x="368.33" y="644.30" font-size="8.6" text-anchor="middle" fill="#2e2e2e" >4</text>
<line x1="387.04" y1="630.80" x2="387.04" y2="633.80" stroke="#1e1e1e" stroke-width="0.9"/>
<text x="387.04" y="644.30" font-size="8.6" text-anchor="middle" fill="#2e2e2e" >6</text>
<line x1="405.76" y1="630.80" x2="405.76" y2="633.80" stroke="#1e1e1e" stroke-width="0.9"/>
<text x="405.76" y="644.30" font-size="8.6" text-anchor="middle" fill="#2e2e2e" >8</text>
<line x1="424.47" y1="630.80" x2="424.47" y2="633.80" stroke="#1e1e1e" stroke-width="0.9"/>
<text x="424.47" y="644.30" font-size="8.6" text-anchor="middle" fill="#2e2e2e" >10</text>
<line x1="443.18" y1="630.80" x2="443.18" y2="633.80" stroke="#1e1e1e" stroke-width="0.9"/>
<text x="443.18" y="644.30" font-size="8.6" text-anchor="middle" fill="#2e2e2e" >12</text>
<line x1="461.90" y1="630.80" x2="461.90" y2="633.80" stroke="#1e1e1e" stroke-width="0.9"/>
<text x="461.90" y="644.30" font-size="8.6" text-anchor="middle" fill="#2e2e2e" >14</text>
<text x="396.70" y="658.30" font-size="10.3" text-anchor="middle" fill="#333" textLength="13.20" lengthAdjust="spacingAndGlyphs" >Day</text>
<text x="296.50" y="584.90" font-size="10.2" text-anchor="middle" fill="#333" textLength="77.80" lengthAdjust="spacingAndGlyphs" transform="rotate(-90 296.50 584.90)" >Maximal clot firmness</text>
<text x="309.50" y="585.70" font-size="10.2" text-anchor="middle" fill="#333" textLength="19.40" lengthAdjust="spacingAndGlyphs" transform="rotate(-90 309.50 585.70)" >(mm)</text>
<polyline points="340.26,565.34 349.61,567.52 368.33,571.34 396.40,577.56 461.90,594.80" fill="none" stroke="#114a7d" stroke-width="1.05" stroke-linejoin="round" stroke-opacity="1"/>
<circle cx="340.26" cy="565.34" r="1.90" fill="#114a7d" fill-opacity="1"/>
<circle cx="349.61" cy="567.52" r="1.90" fill="#114a7d" fill-opacity="1"/>
<line x1="368.33" y1="569.16" x2="368.33" y2="573.52" stroke="#114a7d" stroke-width="0.9"/>
<line x1="366.93" y1="569.16" x2="369.73" y2="569.16" stroke="#3a3a3a" stroke-width="0.9"/>
<line x1="366.93" y1="573.52" x2="369.73" y2="573.52" stroke="#3a3a3a" stroke-width="0.9"/>
<circle cx="368.33" cy="571.34" r="1.90" fill="#114a7d" fill-opacity="1"/>
<circle cx="396.40" cy="577.56" r="1.90" fill="#114a7d" fill-opacity="1"/>
<line x1="461.90" y1="593.49" x2="461.90" y2="596.11" stroke="#114a7d" stroke-width="0.9"/>
<line x1="460.50" y1="593.49" x2="463.30" y2="593.49" stroke="#3a3a3a" stroke-width="0.9"/>
<line x1="460.50" y1="596.11" x2="463.30" y2="596.11" stroke="#3a3a3a" stroke-width="0.9"/>
<circle cx="461.90" cy="594.80" r="1.90" fill="#114a7d" fill-opacity="1"/>
<polyline points="340.26,564.79 349.61,568.07 368.33,571.34 396.40,577.56 461.90,594.80" fill="none" stroke="#3aaa35" stroke-width="1.05" stroke-linejoin="round" stroke-opacity="0.3"/>
<line x1="340.26" y1="563.16" x2="340.26" y2="566.43" stroke="#3aaa35" stroke-width="0.9"/>
<line x1="338.86" y1="563.16" x2="341.66" y2="563.16" stroke="#3a3a3a" stroke-width="0.9"/>
<line x1="338.86" y1="566.43" x2="341.66" y2="566.43" stroke="#3a3a3a" stroke-width="0.9"/>
<circle cx="340.26" cy="564.79" r="1.90" fill="#3aaa35" fill-opacity="0.3"/>
<line x1="349.61" y1="566.43" x2="349.61" y2="569.70" stroke="#3aaa35" stroke-width="0.9"/>
<line x1="348.21" y1="566.43" x2="351.01" y2="566.43" stroke="#3a3a3a" stroke-width="0.9"/>
<line x1="348.21" y1="569.70" x2="351.01" y2="569.70" stroke="#3a3a3a" stroke-width="0.9"/>
<circle cx="349.61" cy="568.07" r="1.90" fill="#3aaa35" fill-opacity="0.3"/>
<circle cx="368.33" cy="571.34" r="1.90" fill="#3aaa35" fill-opacity="0.3"/>
<circle cx="396.40" cy="577.56" r="1.90" fill="#3aaa35" fill-opacity="0.3"/>
<circle cx="461.90" cy="594.80" r="1.90" fill="#3aaa35" fill-opacity="0.3"/>
<text x="340.40" y="560.20" font-size="8.7" text-anchor="middle" fill="#2a2a2a" textLength="8.00" lengthAdjust="spacingAndGlyphs" >ns</text>
<text x="350.00" y="562.70" font-size="8.7" text-anchor="middle" fill="#2a2a2a" textLength="8.00" lengthAdjust="spacingAndGlyphs" >ns</text>
<text x="368.00" y="565.40" font-size="8.7" text-anchor="middle" fill="#2a2a2a" textLength="8.00" lengthAdjust="spacingAndGlyphs" >ns</text>
<text x="396.50" y="572.90" font-size="8.7" text-anchor="middle" fill="#2a2a2a" textLength="8.00" lengthAdjust="spacingAndGlyphs" >ns</text>
<text x="462.00" y="589.90" font-size="8.7" text-anchor="middle" fill="#2a2a2a" textLength="8.00" lengthAdjust="spacingAndGlyphs" >ns</text>
<line x1="336.70" y1="613.00" x2="345.30" y2="613.00" stroke="#3aaa35" stroke-width="1.2"/>
<circle cx="341.00" cy="613.00" r="1.60" fill="#3aaa35" />
<text x="349.00" y="616.00" font-size="8.0" fill="#2e2e2e" textLength="27.50" lengthAdjust="spacingAndGlyphs" >No LNP</text>
<line x1="336.70" y1="623.80" x2="345.30" y2="623.80" stroke="#114a7d" stroke-width="1.2"/>
<circle cx="341.00" cy="623.80" r="1.60" fill="#114a7d" />
<text x="349.00" y="626.80" font-size="8.0" fill="#2e2e2e" textLength="40.30" lengthAdjust="spacingAndGlyphs" >mRNA-LNP</text>
<rect x="0.5" y="0.5" width="518.8" height="666.8" fill="none" stroke="#4a4a4a" stroke-width="1.2"/>
</svg></body></html>
